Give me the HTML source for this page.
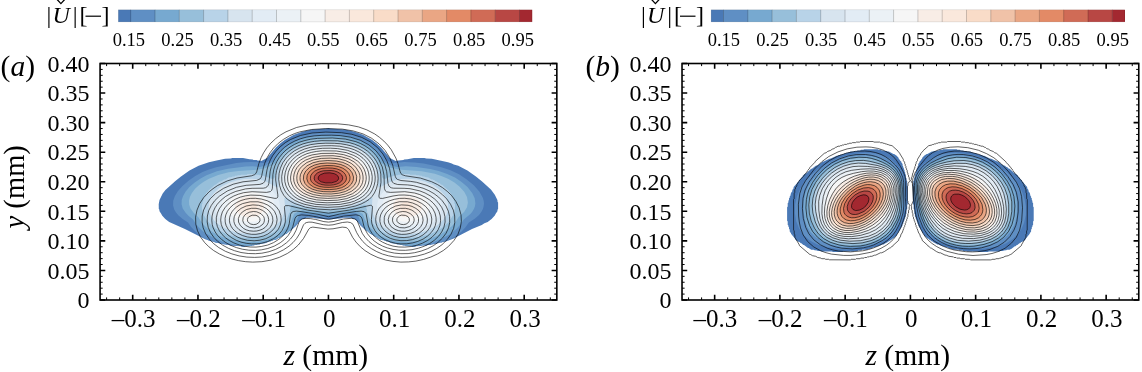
<!DOCTYPE html><html><head><meta charset="utf-8"><style>html,body{margin:0;padding:0;background:#fff;width:1142px;height:372px;overflow:hidden}svg{display:block;filter:blur(0.3px)}text{font-family:"Liberation Serif",serif;fill:#000}</style></head><body>
<svg width="1142" height="372" viewBox="0 0 1142 372">
<clipPath id="clipa"><rect x="100.08" y="63.50" width="456.75" height="236.50"/></clipPath>
<g clip-path="url(#clipa)">
<path d="M328.5 127.9 326.5 128.4 312.1 129.6 306.3 130.7 301.7 131.9 293.9 134.7 284.7 140.0 280.2 143.6 275.9 147.5 267.1 157.9 261.2 161.1 260.6 160.7 257.3 160.5 256.7 160.1 253.4 159.9 252.8 159.5 249.5 159.3 243.0 158.0 232.5 158.1 230.6 158.5 225.1 158.7 216.6 160.5 208.9 162.2 198.6 165.8 189.5 170.5 181.0 176.4 175.1 181.2 165.4 190.0 162.7 193.6 159.5 200.0 158.7 204.2 158.8 208.9 159.3 209.5 159.5 211.3 161.2 213.7 162.1 215.5 165.3 219.0 169.2 222.0 184.9 229.1 205.8 239.5 207.1 239.7 209.0 240.7 214.3 242.0 214.9 242.5 219.5 243.2 220.1 243.7 222.1 243.8 222.7 244.3 229.3 245.0 229.9 245.5 241.0 246.2 241.7 246.7 244.9 246.7 245.6 246.2 251.5 246.1 252.1 245.6 254.1 245.5 254.7 245.0 256.7 245.0 257.3 244.4 259.9 244.4 260.6 243.8 265.2 243.2 269.1 241.5 270.4 241.4 271.0 240.9 272.3 240.8 273.0 240.3 276.2 239.6 278.9 237.9 279.5 237.9 280.8 236.7 282.8 236.1 286.0 233.8 286.7 233.7 290.0 230.8 290.6 230.8 296.4 225.5 296.5 224.9 298.3 223.1 298.4 222.5 301.7 219.5 302.4 219.0 303.7 218.9 306.3 217.8 314.1 217.8 314.7 218.2 328.5 219.4 342.2 218.2 342.8 217.8 350.6 217.8 353.2 218.9 354.6 219.0 358.5 222.5 358.6 223.1 360.4 224.9 360.5 225.5 366.3 230.8 366.9 230.8 370.2 233.7 372.8 234.9 374.1 236.1 376.1 236.7 379.3 239.0 380.6 239.6 382.0 239.7 382.6 240.2 383.9 240.3 384.6 240.8 385.9 240.9 386.5 241.4 387.8 241.5 391.7 243.2 396.3 243.8 397.0 244.4 399.6 244.4 400.2 245.0 402.2 245.0 402.8 245.5 404.8 245.6 405.4 246.1 411.3 246.2 412.0 246.7 415.2 246.7 415.9 246.2 421.1 246.1 421.8 245.6 427.0 245.5 427.6 245.0 430.9 244.9 431.5 244.4 434.2 244.3 434.8 243.8 436.8 243.7 437.4 243.2 439.4 243.1 440.0 242.6 442.0 242.5 442.6 242.0 445.9 241.4 453.7 238.4 472.0 229.1 481.8 224.9 484.4 223.3 487.7 222.0 491.6 219.0 494.8 215.5 495.7 213.7 497.4 211.3 497.6 209.5 498.1 209.0 498.1 202.4 497.6 201.9 497.4 200.0 494.8 194.7 490.9 189.4 481.8 181.2 475.9 176.4 467.4 170.5 458.3 165.8 453.7 164.4 451.8 163.4 448.0 162.2 431.8 158.7 426.3 158.5 424.4 158.1 413.9 158.0 407.4 159.3 404.1 159.5 403.5 159.9 396.3 160.7 395.7 161.1 389.8 157.9 381.0 147.5 376.7 143.6 372.2 140.0 363.0 134.8 355.2 131.9 350.6 130.7 344.8 129.6 330.4 128.4 328.5 127.9Z" fill="#4a79b6" fill-rule="evenodd"/>
<path d="M341.5 132.7 331.1 132.1 319.3 132.4 310.2 133.3 301.7 135.1 291.9 138.8 283.4 144.1 279.5 147.4 276.2 151.0 273.5 154.6 269.8 160.5 265.2 163.0 263.9 163.3 257.3 162.3 250.8 162.0 243.6 162.3 236.4 163.1 216.2 167.2 209.0 169.4 202.5 172.0 195.3 175.9 188.8 180.4 182.5 185.9 177.8 191.2 174.9 195.9 173.2 200.7 173.1 205.4 174.2 209.5 176.0 212.5 178.5 215.5 182.7 219.0 188.0 222.5 190.9 226.7 194.7 230.8 198.8 234.4 203.2 237.5 205.9 239.1 207.1 239.2 209.0 240.3 210.3 240.4 211.0 240.9 214.3 241.6 214.9 242.2 219.5 242.9 220.1 243.4 222.1 243.5 222.7 244.0 225.4 244.1 226.0 244.6 229.3 244.7 229.9 245.2 235.1 245.3 235.8 245.8 241.0 245.9 241.7 246.4 244.9 246.4 245.6 245.9 251.5 245.9 252.1 245.3 256.7 244.7 257.3 244.2 259.9 244.1 260.6 243.6 265.2 243.0 269.1 241.2 270.4 241.2 271.0 240.6 272.3 240.6 273.0 240.0 276.2 239.4 278.9 237.7 279.5 237.6 280.8 236.5 282.8 235.8 286.0 233.5 286.7 233.5 290.0 230.5 290.6 230.5 296.1 225.5 296.1 224.9 298.0 223.1 298.0 222.5 302.4 218.5 303.2 218.4 304.3 216.9 306.3 216.4 318.0 217.5 327.8 217.7 338.9 217.4 350.0 216.4 351.9 216.6 353.0 217.2 353.7 218.4 354.6 218.5 358.9 222.5 358.9 223.1 360.8 224.9 360.8 225.5 366.3 230.5 366.9 230.5 370.2 233.5 372.8 234.7 374.1 235.8 376.1 236.5 379.3 238.8 380.6 239.4 382.0 239.4 382.6 240.0 383.9 240.0 384.6 240.6 385.9 240.6 386.5 241.2 387.8 241.2 391.7 243.0 396.3 243.6 397.0 244.1 399.6 244.2 400.2 244.7 404.8 245.3 405.4 245.9 411.3 245.9 412.0 246.4 415.2 246.4 415.9 245.9 421.1 245.8 421.8 245.3 427.0 245.2 427.6 244.7 430.9 244.6 431.5 244.1 434.2 244.0 434.8 243.5 436.8 243.4 437.4 242.9 442.0 242.2 442.6 241.6 445.9 240.9 446.6 240.4 447.9 240.3 449.8 239.2 451.0 239.1 456.5 235.6 461.6 231.4 465.5 227.3 468.9 222.5 475.0 218.4 479.0 214.9 481.3 211.9 482.9 208.9 483.6 206.6 484.0 203.6 483.7 200.7 482.8 197.7 479.5 191.8 473.8 185.3 466.8 179.4 459.0 174.3 450.5 170.3 441.3 167.3 423.7 163.6 414.6 162.4 404.1 162.0 393.0 163.3 391.7 163.0 386.5 160.0 382.9 154.0 379.1 149.2 374.1 144.7 368.9 141.0 363.0 138.0 356.5 135.5 349.3 133.8 341.5 132.7Z" fill="#5f8fc4" fill-rule="evenodd"/>
<path d="M340.2 135.6 329.8 135.2 318.7 135.5 310.2 136.4 302.4 138.2 293.9 141.4 286.0 146.2 282.4 149.2 279.0 152.8 273.0 161.6 265.8 165.4 259.9 166.9 252.8 166.3 245.6 166.4 228.0 168.8 216.9 171.3 206.5 175.2 200.6 178.4 194.7 182.4 189.4 187.1 185.5 191.8 183.1 195.9 181.7 200.1 181.6 204.2 182.7 208.4 185.8 213.1 188.7 216.0 193.1 219.6 195.7 223.7 198.7 227.3 203.2 231.4 207.7 234.6 214.9 238.6 222.7 241.7 231.2 244.0 240.4 245.5 244.9 245.9 245.6 245.6 251.5 245.6 252.1 245.1 256.7 244.5 257.3 243.9 259.9 243.9 260.6 243.4 265.2 242.7 265.8 242.2 267.1 242.2 269.1 241.0 270.4 241.0 271.0 240.4 272.3 240.4 273.0 239.8 274.3 239.8 274.9 239.2 276.2 239.2 276.9 238.6 277.6 238.6 280.8 236.2 282.8 235.6 286.0 233.2 286.7 233.2 290.4 230.2 293.3 226.7 295.6 223.1 299.4 214.3 301.0 213.1 302.4 212.9 315.4 214.6 327.8 215.1 339.5 214.8 353.2 213.0 355.9 213.1 357.5 214.3 360.4 221.4 363.6 226.7 366.5 230.2 370.2 233.2 370.9 233.2 374.1 235.6 376.1 236.2 377.4 237.4 378.0 237.4 380.6 239.2 383.9 239.8 384.6 240.4 385.9 240.4 386.5 241.0 387.8 241.0 389.8 242.2 391.1 242.2 391.7 242.7 396.3 243.4 397.0 243.9 399.6 243.9 400.2 244.5 404.8 245.1 405.4 245.6 411.3 245.6 412.0 245.9 423.7 244.4 433.5 241.9 442.0 238.6 449.8 234.2 456.3 229.1 460.7 224.3 463.8 219.6 470.1 214.3 472.1 211.9 473.9 208.9 474.9 206.6 475.4 203.6 474.7 198.3 472.2 193.0 467.5 187.1 461.6 181.9 455.0 177.6 447.2 173.9 438.7 171.0 430.2 169.0 416.5 166.9 406.1 166.2 397.0 166.9 390.4 165.2 386.5 163.2 383.3 161.1 380.1 155.7 376.2 151.0 371.5 146.8 366.3 143.2 360.4 140.3 354.6 138.2 347.4 136.6 340.2 135.6Z" fill="#77a9d0" fill-rule="evenodd"/>
<path d="M332.4 138.0 321.3 138.1 312.1 139.0 303.7 140.8 296.5 143.5 290.3 146.9 284.7 151.2 280.2 156.3 275.9 162.8 270.9 165.8 265.8 167.9 257.3 169.8 238.4 171.0 228.6 172.3 218.2 175.0 209.0 178.7 203.7 181.8 198.9 185.3 195.1 188.8 191.9 193.0 189.9 197.1 189.0 200.7 189.2 204.8 190.5 208.4 193.8 213.1 198.4 217.2 200.9 221.4 203.8 224.9 207.5 228.5 211.7 231.5 218.2 235.2 225.4 238.1 233.2 240.2 241.7 241.6 251.5 242.1 259.3 241.5 267.1 239.7 274.9 236.5 281.9 232.0 287.4 226.7 291.4 220.8 294.2 213.7 298.4 211.5 303.0 210.2 313.4 212.0 325.8 212.7 341.5 212.2 353.9 210.1 356.5 210.8 362.7 213.7 364.6 219.0 367.3 223.7 370.9 228.2 375.4 232.3 380.0 235.4 385.2 238.0 390.4 239.9 396.3 241.3 406.1 242.1 418.5 241.2 429.6 238.7 439.4 234.9 446.3 230.8 452.0 226.1 455.6 222.0 458.5 217.2 464.1 211.9 467.0 207.2 467.9 202.4 467.0 197.1 464.2 191.8 459.4 186.5 454.4 182.6 448.5 179.1 442.0 176.2 434.8 173.8 421.8 171.3 398.3 169.6 389.8 167.5 385.2 165.4 380.6 162.6 377.1 156.9 373.1 152.2 368.2 148.0 362.4 144.5 356.5 141.9 349.3 139.9 341.5 138.6 332.4 138.0Z" fill="#97bfda" fill-rule="evenodd"/>
<path d="M337.6 140.9 323.9 140.7 312.1 141.7 302.4 144.1 293.9 148.0 290.0 150.6 286.7 153.4 281.2 159.9 277.6 165.8 277.6 167.0 276.9 167.6 276.9 169.3 276.2 169.9 276.2 171.7 275.6 172.3 275.6 174.7 274.9 175.2 274.9 177.0 273.6 178.8 271.0 178.8 270.4 178.2 269.7 178.2 269.1 177.6 267.8 177.6 265.8 176.4 264.5 176.4 263.9 175.8 262.5 175.8 261.9 175.2 259.3 175.2 258.6 174.7 254.7 174.7 254.1 174.1 247.5 174.1 246.9 174.7 241.0 174.7 240.4 175.2 237.8 175.2 237.1 175.8 235.1 175.8 234.5 176.4 232.5 176.4 231.9 177.0 228.6 177.6 225.4 179.4 224.1 179.4 221.4 181.2 219.5 181.8 215.6 184.7 214.9 184.7 208.4 190.6 208.4 191.2 206.4 193.0 205.1 195.9 204.5 196.5 204.5 197.1 203.8 197.7 203.8 198.9 203.2 199.5 203.2 200.7 202.5 201.3 202.5 203.6 201.9 204.2 201.9 209.5 202.5 210.1 202.5 212.5 203.2 213.1 203.2 214.3 206.9 220.2 210.5 224.3 215.7 228.5 222.1 232.1 229.3 234.9 237.1 236.9 245.6 238.0 254.1 238.1 261.2 237.1 268.4 234.9 274.3 232.0 279.9 227.9 283.9 223.7 286.9 219.0 289.3 212.7 290.0 212.5 290.0 208.9 290.6 208.4 290.6 206.0 291.9 204.8 295.2 205.4 295.8 206.0 297.1 206.0 297.8 206.6 301.0 207.2 301.7 207.8 303.0 207.6 310.8 209.3 318.7 210.2 328.5 210.4 338.2 210.1 346.1 209.3 353.9 207.6 355.2 207.8 355.9 207.2 359.1 206.6 361.1 205.4 363.0 205.4 363.7 204.8 365.0 204.8 366.3 206.0 366.3 208.4 366.9 208.9 366.9 212.5 367.6 212.7 369.7 218.4 373.0 223.7 376.3 227.3 380.6 230.7 385.2 233.4 389.8 235.4 395.0 236.9 400.9 237.9 406.8 238.2 413.3 237.8 419.8 236.9 426.3 235.3 432.2 233.2 437.4 230.8 443.9 226.4 449.1 221.4 453.7 214.3 453.7 213.1 454.4 212.5 454.4 210.1 455.0 209.5 455.0 204.2 454.4 203.6 454.4 201.3 453.7 200.7 453.7 199.5 453.1 198.9 453.1 197.7 452.4 197.1 452.4 196.5 451.8 195.9 450.5 193.0 448.5 191.2 448.5 190.6 442.0 184.7 441.3 184.7 439.4 182.9 438.7 182.9 436.1 181.2 435.5 181.2 434.2 180.0 433.5 180.0 432.9 179.4 431.5 179.4 428.3 177.6 425.0 177.0 424.4 176.4 422.4 176.4 421.8 175.8 419.8 175.8 419.1 175.2 416.5 175.2 415.9 174.7 410.0 174.7 409.4 174.1 402.8 174.1 402.2 174.7 398.3 174.7 397.6 175.2 395.0 175.2 394.4 175.8 393.0 175.8 392.4 176.4 391.1 176.4 389.1 177.6 387.8 177.6 385.9 178.8 383.3 178.8 382.0 177.0 382.0 175.8 381.3 175.2 381.3 172.9 380.6 172.3 380.6 169.9 380.0 169.3 380.0 168.2 379.3 167.6 379.3 166.4 378.7 165.8 378.7 164.6 373.4 156.9 368.3 151.7 361.7 147.3 354.6 144.2 346.7 142.1 337.6 140.9Z" fill="#b8d3e8" fill-rule="evenodd"/>
<path d="M334.3 143.3 320.6 143.4 309.5 144.9 304.3 146.3 299.7 148.1 295.8 150.1 291.7 152.8 288.3 155.7 285.4 159.0 282.8 162.8 281.1 166.4 279.0 173.5 278.5 178.8 278.5 185.9 278.2 187.1 277.6 187.4 275.6 186.7 268.4 182.7 263.9 180.8 258.0 179.3 252.1 178.7 244.3 179.1 236.4 180.4 229.3 182.7 222.7 185.9 218.4 188.8 214.6 192.4 211.9 195.9 209.8 200.1 208.8 204.2 208.6 208.4 209.4 212.5 211.3 216.6 214.4 220.8 218.3 224.3 223.4 227.6 229.3 230.3 235.8 232.4 242.3 233.6 249.5 234.2 256.0 233.9 263.2 232.4 269.7 229.7 275.2 226.1 279.5 221.8 282.5 217.2 284.4 211.9 285.0 206.6 284.4 198.9 284.6 197.7 285.4 197.4 297.8 203.3 305.6 205.9 316.1 207.7 328.5 208.2 340.8 207.7 351.3 205.9 359.6 203.0 371.5 197.2 372.2 197.4 372.5 198.3 371.9 206.0 372.2 210.1 373.0 213.7 374.4 217.2 376.7 220.9 380.0 224.6 383.9 227.7 388.5 230.3 393.7 232.4 398.9 233.6 404.1 234.1 410.7 234.0 417.2 233.2 423.7 231.7 429.6 229.5 434.8 226.9 440.1 223.1 444.0 219.0 446.8 214.3 448.2 208.9 448.0 203.6 446.6 198.9 443.7 194.2 439.2 189.4 432.9 185.1 425.1 181.8 416.5 179.6 408.1 178.7 400.9 179.0 394.4 180.4 388.5 182.7 380.6 187.1 378.7 187.4 378.2 185.9 378.1 175.8 376.6 168.7 373.2 161.6 368.5 155.7 361.7 150.5 353.9 146.8 344.8 144.4 334.3 143.3Z" fill="#d7e4ef" fill-rule="evenodd"/>
<path d="M252.1 182.9 246.9 183.1 241.7 183.7 236.4 184.9 232.0 186.5 228.0 188.4 224.1 190.9 221.0 193.6 218.4 196.5 216.6 199.5 215.3 203.0 214.9 206.6 215.2 210.1 216.4 213.7 218.1 216.6 220.8 219.7 224.2 222.5 230.6 226.1 237.8 228.5 246.2 229.9 254.1 230.0 260.6 228.8 267.1 226.2 272.3 222.6 276.2 218.4 278.9 213.1 279.9 207.2 279.6 203.6 278.9 200.7 276.2 195.2 271.7 190.1 266.2 186.5 259.3 183.9 252.1 182.9ZM407.4 182.9 402.2 183.1 396.8 184.1 391.7 186.0 387.2 188.6 383.4 191.8 380.5 195.3 378.4 199.5 377.2 204.2 377.1 208.9 378.0 213.1 380.0 217.2 382.7 220.8 386.5 224.2 390.7 226.7 395.7 228.6 400.9 229.8 407.4 230.1 415.2 229.4 421.8 227.8 428.3 225.2 433.5 221.9 437.9 217.8 440.5 213.7 441.9 208.9 441.8 204.2 440.3 199.5 437.0 194.8 432.9 190.9 427.5 187.7 421.1 185.1 414.6 183.6 407.4 182.9ZM339.5 146.2 332.4 145.8 323.9 145.8 316.7 146.3 310.8 147.3 305.6 148.7 300.4 150.7 295.8 153.3 291.8 156.3 288.0 160.3 285.2 164.6 283.1 169.3 281.8 174.7 281.7 180.0 282.5 184.7 284.3 188.8 287.2 193.0 290.3 195.9 293.9 198.5 297.9 200.7 302.4 202.5 312.1 205.0 324.5 206.0 338.9 205.7 350.0 203.9 355.2 202.2 359.8 200.3 364.1 197.7 367.6 194.9 370.6 191.8 372.5 188.8 374.1 185.3 375.0 181.2 375.2 177.0 374.5 172.3 373.3 168.2 371.3 164.0 368.9 160.5 365.6 156.9 362.4 154.2 358.5 151.8 350.0 148.3 339.5 146.2Z" fill="#e2ecf5" fill-rule="evenodd"/>
<path d="M256.0 187.6 248.2 187.2 239.7 188.6 235.6 190.0 231.9 191.8 226.3 195.9 224.3 198.3 222.5 201.3 221.7 203.6 221.2 206.6 221.5 209.5 222.2 211.9 223.9 214.9 225.9 217.2 230.4 220.8 235.8 223.4 242.3 225.2 248.8 226.0 254.7 225.8 260.6 224.4 265.7 222.0 269.5 219.0 272.7 214.9 274.5 210.1 274.7 204.8 273.3 200.1 270.4 195.5 266.5 191.9 261.9 189.4 256.0 187.6ZM412.0 187.6 403.5 187.3 399.6 187.9 395.7 189.1 392.4 190.7 389.1 192.9 386.6 195.3 384.5 198.3 383.1 201.3 382.2 204.8 382.2 208.4 382.9 211.9 384.2 214.9 386.3 217.8 389.1 220.5 392.1 222.5 397.0 224.7 402.8 225.9 408.7 226.0 415.2 225.1 421.1 223.4 426.5 220.8 430.9 217.3 433.8 213.7 435.4 209.5 435.6 205.4 434.4 201.3 431.7 197.1 427.8 193.6 423.1 190.8 417.8 188.8 412.0 187.6ZM337.6 148.6 323.2 148.3 317.4 148.8 311.5 149.8 306.3 151.2 301.7 153.1 297.8 155.3 293.9 158.2 290.6 161.6 287.8 165.8 285.8 170.5 284.8 175.2 284.7 180.0 285.5 184.1 287.4 188.3 290.0 191.8 293.1 194.8 296.5 197.1 304.3 200.7 314.1 203.0 325.2 203.9 338.2 203.5 348.7 201.9 353.2 200.5 357.8 198.5 361.7 196.2 365.0 193.6 367.8 190.6 369.7 187.7 371.3 184.1 372.1 180.6 372.2 176.4 371.5 172.3 370.1 168.2 368.3 164.6 365.7 161.1 363.0 158.3 359.7 155.7 355.9 153.4 347.4 150.3 337.6 148.6Z" fill="#ebf1f6" fill-rule="evenodd"/>
<path d="M254.1 191.8 247.5 191.7 241.0 193.1 235.8 195.3 231.3 198.9 228.6 203.0 227.8 207.2 228.8 211.3 231.9 215.5 235.8 218.2 240.4 220.2 245.6 221.4 250.8 221.8 255.4 221.4 259.3 220.3 262.9 218.4 265.8 215.9 268.2 212.5 269.4 208.9 269.4 204.8 268.2 201.3 265.8 197.7 262.5 194.9 258.6 192.9 254.1 191.8ZM410.0 191.8 402.8 191.8 397.0 193.5 392.3 196.5 390.1 198.9 388.7 201.3 387.8 203.6 387.4 206.6 388.2 211.3 389.3 213.7 391.2 216.0 393.2 217.8 396.1 219.6 400.2 221.1 404.1 221.8 409.4 221.7 414.6 220.8 419.1 219.2 423.1 217.0 426.1 214.3 428.1 211.3 429.0 208.4 428.8 204.8 427.8 201.9 425.6 198.9 422.4 196.2 418.8 194.2 414.6 192.7 410.0 191.8ZM336.3 151.0 323.2 150.8 312.1 152.2 307.6 153.5 303.0 155.4 299.1 157.7 295.8 160.2 292.6 163.8 290.2 167.6 288.5 171.7 287.7 175.8 287.6 180.0 288.4 183.5 290.0 187.1 292.6 190.6 295.2 193.1 298.3 195.3 305.6 198.7 314.7 200.9 325.2 201.8 337.6 201.4 347.4 199.9 355.9 196.8 359.4 194.8 362.4 192.4 365.2 189.4 367.1 186.5 368.4 183.5 369.2 180.0 369.2 176.4 368.6 172.9 367.5 169.3 365.6 165.8 363.5 162.8 360.6 159.9 357.5 157.5 353.9 155.5 346.1 152.6 336.3 151.0Z" fill="#f6f6f6" fill-rule="evenodd"/>
<path d="M254.1 196.5 249.5 196.3 244.9 197.0 241.0 198.5 237.9 200.7 235.6 203.6 234.8 206.6 235.3 209.5 237.3 212.5 239.5 214.3 242.3 215.7 245.6 216.8 249.5 217.3 252.8 217.3 256.0 216.6 258.6 215.4 260.9 213.7 262.8 211.3 263.7 208.9 263.9 206.6 263.3 203.6 262.0 201.3 259.9 199.2 257.3 197.6 254.1 196.5ZM409.4 196.5 404.8 196.2 400.2 197.3 396.6 199.5 394.2 202.4 393.0 206.0 393.3 209.5 395.0 212.6 398.3 215.4 400.9 216.6 404.1 217.3 410.7 216.9 413.9 216.0 417.2 214.4 419.6 212.5 421.0 210.7 421.8 208.9 422.1 206.6 421.5 204.2 420.1 201.9 418.3 200.1 415.5 198.3 409.4 196.5ZM334.3 153.3 322.6 153.3 312.8 154.7 308.2 156.1 304.3 157.8 300.8 159.9 297.8 162.2 295.1 165.2 292.9 168.7 291.4 172.3 290.6 176.4 290.7 180.0 291.5 183.5 293.0 186.5 295.2 189.4 300.4 193.7 307.6 197.0 316.1 198.9 325.8 199.7 337.6 199.3 346.7 197.7 354.5 194.8 360.4 190.6 362.6 188.3 364.5 185.3 365.7 182.3 366.2 179.4 366.1 175.8 365.4 172.3 364.2 169.3 362.4 166.1 357.6 161.1 351.3 157.2 343.5 154.6 334.3 153.3Z" fill="#f8ede6" fill-rule="evenodd"/>
<path d="M251.5 201.8 246.9 202.6 245.1 203.6 244.0 204.8 243.4 206.0 243.3 207.8 245.0 210.1 247.5 211.4 251.5 212.0 254.1 211.3 256.3 209.5 257.2 207.2 256.6 204.8 254.7 202.9 251.5 201.8ZM406.1 201.8 403.0 202.4 400.7 204.2 399.7 206.6 400.2 208.9 402.2 211.0 404.8 211.9 408.1 211.8 411.0 210.7 412.6 209.5 413.4 208.4 413.7 207.2 413.3 205.4 412.4 204.2 410.7 202.9 408.7 202.2 406.1 201.8ZM333.0 155.7 322.6 155.8 313.4 157.2 306.1 159.9 303.0 161.7 300.1 164.0 297.4 167.0 295.6 169.9 294.4 172.9 293.7 176.4 293.7 180.0 294.5 182.9 296.0 185.9 297.8 188.3 303.0 192.4 309.5 195.2 317.4 196.9 326.5 197.6 336.9 197.2 345.4 195.7 352.6 193.0 357.8 189.4 360.0 187.1 361.5 184.7 362.5 182.3 363.1 179.4 363.1 176.4 362.4 172.9 361.2 169.9 359.4 167.0 354.6 162.2 348.7 158.9 341.5 156.8 333.0 155.7Z" fill="#fae8dc" fill-rule="evenodd"/>
<path d="M330.4 158.1 321.3 158.4 313.4 159.9 306.9 162.5 301.8 166.4 299.7 168.9 298.2 171.7 297.2 174.7 296.8 177.6 297.0 180.6 297.8 182.9 299.1 185.3 301.0 187.6 306.1 191.2 312.1 193.6 319.3 195.0 328.5 195.5 337.6 195.0 344.8 193.6 351.3 190.9 355.9 187.5 357.7 185.3 359.0 182.9 360.0 178.2 359.8 175.2 358.9 172.3 355.9 167.3 351.3 163.4 345.4 160.5 338.2 158.7 330.4 158.1Z" fill="#f9dcc8" fill-rule="evenodd"/>
<path d="M336.3 161.0 327.8 160.5 319.3 161.2 312.8 162.8 307.6 165.4 303.2 169.3 300.6 174.1 300.0 177.0 300.0 179.4 300.6 181.8 301.8 184.1 305.0 187.4 309.5 190.2 315.4 192.1 321.9 193.1 331.1 193.3 338.9 192.6 345.4 190.9 350.6 188.3 354.5 184.7 356.5 180.6 356.7 176.4 355.2 171.7 352.0 167.6 348.0 164.7 342.8 162.4 336.3 161.0Z" fill="#f0c2a8" fill-rule="evenodd"/>
<path d="M335.0 163.4 327.8 163.0 320.6 163.5 314.7 164.9 310.2 167.1 306.2 170.5 303.9 174.7 303.3 178.8 303.8 181.2 304.7 182.9 307.4 185.9 311.5 188.4 316.7 190.1 322.6 191.0 330.4 191.2 337.6 190.6 343.5 189.1 348.0 186.9 351.2 184.1 353.2 180.6 353.4 176.4 351.9 172.4 349.3 169.2 345.4 166.4 340.8 164.5 335.0 163.4Z" fill="#eaa684" fill-rule="evenodd"/>
<path d="M333.7 165.7 327.8 165.4 321.9 165.9 316.7 167.1 312.8 168.9 309.5 171.5 307.4 174.7 306.7 178.2 307.7 181.8 310.2 184.5 313.4 186.5 318.0 188.1 323.2 188.9 329.8 189.1 336.3 188.6 341.5 187.3 345.4 185.4 348.3 182.9 349.8 180.0 350.0 177.0 348.8 173.5 346.3 170.5 342.8 168.2 338.9 166.7 333.7 165.7Z" fill="#e38a66" fill-rule="evenodd"/>
<path d="M332.4 168.1 327.1 167.9 321.9 168.4 318.0 169.5 314.7 171.1 312.1 173.4 310.7 175.8 310.4 178.8 311.2 181.2 313.4 183.5 316.1 184.9 319.3 186.1 323.9 186.8 329.1 187.0 334.3 186.7 338.9 185.6 342.4 184.1 345.2 181.8 346.3 179.4 346.2 176.4 345.2 174.1 342.9 171.7 340.2 170.1 336.4 168.7 332.4 168.1Z" fill="#d06b56" fill-rule="evenodd"/>
<path d="M331.1 170.5 323.9 170.7 320.6 171.4 318.0 172.6 316.0 174.1 314.7 175.8 314.1 178.2 314.6 180.0 316.0 181.8 318.0 183.0 321.1 184.1 324.5 184.7 333.0 184.6 336.9 183.8 339.5 182.6 341.4 181.2 342.5 179.4 342.7 177.6 341.8 175.2 340.1 173.5 337.6 172.0 334.3 170.9 331.1 170.5Z" fill="#b84744" fill-rule="evenodd"/>
<path d="M329.8 172.8 324.5 173.1 320.6 174.6 319.1 175.8 318.4 177.0 318.2 178.2 318.5 179.4 319.5 180.6 321.3 181.6 325.8 182.7 331.7 182.6 336.5 181.2 337.9 180.0 338.6 178.8 338.4 177.0 337.7 175.8 336.3 174.7 334.3 173.7 329.8 172.8Z" fill="#a32830" fill-rule="evenodd"/>
<path d="M337.6 123.8 321.3 123.7 308.2 124.8 296.5 127.5 286.0 131.8 280.8 134.8 275.6 138.7 270.7 143.3 266.7 148.0 263.6 152.8 261.2 157.5 258.9 163.4 256.7 171.8 255.8 173.5 254.7 174.6 251.5 175.8 237.1 178.0 227.3 180.9 217.5 185.6 213.0 188.7 209.1 191.8 203.6 197.7 199.7 203.6 197.0 210.1 195.6 217.2 195.8 224.3 197.5 230.8 200.3 236.7 204.7 242.6 208.9 246.8 213.6 250.5 219.5 254.0 225.4 256.7 231.9 259.0 238.4 260.6 245.6 261.7 252.8 262.1 261.9 261.7 271.0 260.1 279.5 257.3 287.3 253.5 293.2 249.6 298.3 245.0 303.5 238.5 308.8 229.1 310.2 227.8 312.8 227.1 327.8 229.1 333.0 228.8 342.2 227.1 346.1 227.5 347.4 228.3 348.6 229.6 352.6 237.3 356.0 242.1 360.4 246.8 365.0 250.6 370.9 254.3 378.0 257.6 385.9 260.1 393.0 261.4 400.9 262.1 408.7 261.9 415.9 261.1 423.7 259.4 430.9 257.0 437.4 254.0 443.3 250.5 448.5 246.4 454.1 240.3 457.9 234.4 460.3 227.9 461.4 221.4 461.0 214.9 459.1 207.8 455.8 201.3 451.4 195.3 447.2 191.3 442.6 187.7 437.4 184.5 431.5 181.7 420.5 178.1 405.4 175.8 402.1 174.7 400.9 173.5 400.2 172.0 397.9 163.4 395.9 158.1 391.3 149.8 387.7 145.1 383.9 141.1 379.3 137.2 374.8 134.0 366.9 129.9 358.5 126.9 348.7 124.9 337.6 123.8ZM342.2 129.1 325.8 128.6 311.5 129.5 299.7 131.9 294.5 133.6 289.3 135.9 283.4 139.4 278.3 143.3 273.6 148.0 270.0 152.8 267.2 157.5 265.1 162.2 263.4 167.6 261.7 175.8 261.0 177.6 259.9 179.0 256.7 180.4 243.0 181.8 233.2 184.2 223.6 188.3 215.6 193.6 210.3 198.7 206.4 204.2 203.6 210.1 202.2 216.0 202.1 222.0 203.2 227.9 205.7 233.8 209.3 239.1 213.6 243.6 218.8 247.6 225.4 251.3 231.9 253.9 239.1 255.9 246.9 257.1 254.7 257.4 261.9 257.0 269.7 255.5 276.9 253.1 283.4 249.9 289.0 246.2 293.0 242.6 296.6 238.5 299.9 233.2 303.5 224.9 305.0 223.3 306.3 222.6 308.9 222.1 312.1 222.2 323.2 224.7 328.5 225.2 333.0 224.8 342.4 222.5 347.4 222.0 350.6 222.6 353.0 224.3 356.7 232.6 359.1 236.7 362.8 241.5 366.9 245.4 371.5 248.7 376.7 251.6 382.6 254.1 388.5 255.8 395.0 257.0 402.2 257.4 410.0 257.1 417.2 256.0 424.4 254.1 430.9 251.6 436.8 248.4 442.0 244.7 447.1 239.7 450.9 234.4 453.6 228.5 454.8 222.5 454.7 216.0 453.3 210.1 450.5 204.2 446.7 198.9 442.6 194.8 438.1 191.2 432.9 188.0 427.0 185.4 416.5 182.3 410.7 181.4 400.9 180.5 397.4 179.4 396.1 178.2 395.3 176.4 392.7 165.2 389.6 157.5 385.1 150.4 379.1 143.9 371.5 138.2 363.0 133.9 353.2 130.9 342.2 129.1ZM341.5 132.7 325.8 132.1 312.1 133.0 300.4 135.5 290.6 139.5 285.3 142.7 280.2 146.8 276.2 151.0 272.7 155.7 270.4 159.9 268.4 164.6 267.0 169.9 265.3 180.0 264.5 181.8 263.2 183.2 259.9 184.4 246.2 185.3 236.4 187.3 227.3 191.0 219.5 196.1 214.7 200.7 211.3 205.4 208.7 210.7 207.4 216.0 207.2 222.0 208.2 227.3 210.5 232.6 213.8 237.3 217.8 241.5 222.7 245.2 228.6 248.4 234.5 250.7 241.0 252.5 248.2 253.5 255.4 253.7 261.9 253.2 269.1 251.7 275.6 249.4 281.5 246.4 286.7 242.6 290.4 239.1 293.6 235.0 296.1 230.2 299.1 221.8 300.2 220.2 301.9 219.0 305.0 218.4 310.2 218.6 315.4 219.4 323.9 221.6 328.5 222.1 333.0 221.6 343.5 219.0 351.3 218.3 355.1 219.0 357.2 220.7 362.2 233.2 365.0 237.3 368.9 241.5 372.8 244.7 377.4 247.5 382.6 250.0 387.8 251.7 394.4 253.1 400.9 253.7 408.1 253.6 414.6 252.7 421.1 251.1 427.6 248.7 433.5 245.6 438.1 242.3 442.6 237.9 446.1 233.2 448.5 227.9 449.7 222.5 449.6 216.6 448.4 211.3 446.0 206.0 442.2 200.7 438.6 197.1 434.0 193.6 428.9 190.7 423.1 188.2 413.3 185.6 407.4 184.9 397.6 184.5 393.7 183.3 392.4 182.0 391.5 180.0 389.6 168.7 387.0 161.1 382.9 154.0 377.4 147.5 370.2 141.8 361.7 137.4 351.9 134.3 341.5 132.7ZM340.2 135.6 331.7 135.2 321.9 135.3 314.1 135.9 306.9 137.0 300.4 138.8 294.9 141.0 289.4 143.9 284.7 147.2 281.2 150.4 278.1 154.0 275.2 158.1 273.0 162.2 271.4 166.4 270.2 171.1 268.8 183.5 268.2 185.3 267.1 186.7 265.6 187.7 263.2 188.2 252.1 188.3 245.6 188.9 235.8 191.4 230.6 193.6 225.4 196.6 221.1 200.1 217.3 204.2 215.0 207.8 213.1 211.9 212.1 216.0 211.8 220.2 212.2 224.3 213.2 227.9 215.2 232.0 217.7 235.6 221.4 239.3 225.8 242.6 230.6 245.3 236.4 247.6 242.3 249.2 248.8 250.2 255.4 250.4 261.2 249.9 267.8 248.5 274.3 246.1 280.2 242.8 284.9 239.1 288.1 235.6 290.8 231.4 292.8 226.7 295.0 218.4 296.1 216.6 297.8 215.5 301.7 214.9 308.2 215.4 316.7 216.8 325.2 218.9 328.5 219.3 331.7 218.9 343.5 216.1 355.9 214.8 359.2 215.5 361.3 217.2 362.2 219.0 363.9 226.1 365.2 229.6 367.5 233.8 370.8 237.9 374.1 240.9 378.0 243.7 382.6 246.1 387.2 247.9 393.0 249.4 398.9 250.2 405.4 250.3 412.0 249.7 418.5 248.2 424.3 246.2 429.6 243.6 434.3 240.3 438.7 236.1 441.7 232.0 443.9 227.3 445.1 222.0 444.9 216.6 443.8 211.9 441.6 207.2 438.1 202.4 434.5 198.9 430.2 195.8 425.1 193.0 419.8 190.9 410.0 188.7 404.1 188.3 393.7 188.2 391.7 187.9 390.0 187.1 388.9 185.9 388.0 183.5 386.7 171.7 384.8 164.6 381.2 157.5 376.1 150.9 368.9 144.9 360.4 140.3 350.6 137.2 340.2 135.6ZM332.4 138.0 317.4 138.4 310.8 139.2 305.0 140.5 299.7 142.1 294.5 144.4 290.0 147.1 286.0 150.1 282.6 153.4 279.3 157.5 276.8 161.6 274.9 165.8 273.7 169.9 272.9 174.7 272.4 188.3 271.7 190.3 270.4 191.6 266.5 192.4 252.1 191.7 243.6 192.7 238.4 194.2 233.8 196.0 229.3 198.5 225.4 201.5 222.1 204.8 219.2 208.9 217.4 213.1 216.3 217.8 216.4 222.5 217.4 226.7 219.4 230.8 222.0 234.4 225.4 237.7 229.3 240.5 233.8 242.9 239.1 244.9 244.3 246.2 250.2 247.0 256.0 247.1 261.2 246.5 267.8 245.0 273.6 242.6 278.9 239.3 283.1 235.6 285.8 232.0 287.7 228.5 289.2 223.7 290.6 214.3 291.6 212.5 293.2 211.5 296.5 211.1 301.0 211.6 318.0 214.3 328.5 216.7 339.5 214.1 356.5 211.4 361.1 211.1 364.3 211.7 366.1 213.7 368.3 226.1 370.0 230.2 372.3 233.8 375.4 237.2 378.7 239.8 382.6 242.2 387.5 244.4 393.0 246.1 398.9 247.0 404.8 247.1 411.3 246.5 417.2 245.1 422.4 243.2 427.6 240.5 431.9 237.3 435.4 233.8 438.2 229.6 439.9 225.5 440.6 220.8 440.3 216.0 438.9 211.3 436.6 207.2 433.2 203.0 429.6 199.9 425.0 197.0 419.8 194.6 414.6 193.0 404.8 191.7 390.4 192.4 386.5 191.8 385.2 190.6 384.4 188.3 384.0 175.2 382.3 167.0 378.7 159.3 376.2 155.7 373.1 152.2 369.0 148.6 365.0 145.9 360.4 143.5 355.9 141.7 345.4 139.1 332.4 138.0ZM337.6 140.9 321.9 140.7 314.7 141.3 308.9 142.3 303.0 143.9 297.8 146.0 293.2 148.4 288.7 151.6 284.4 155.7 280.9 160.5 278.4 165.2 276.6 170.5 275.8 175.2 275.7 180.0 277.8 194.8 277.8 196.5 277.4 197.7 276.4 198.3 274.9 198.4 259.9 195.4 250.8 195.1 245.6 195.8 240.4 197.1 235.8 199.0 231.9 201.2 228.1 204.2 224.9 207.8 222.4 211.9 221.1 216.0 220.7 220.2 221.2 224.3 222.8 228.5 225.2 232.0 228.0 235.0 231.9 237.9 236.3 240.3 241.0 242.1 246.2 243.3 251.5 243.9 256.7 243.8 261.2 243.3 267.8 241.5 273.6 238.6 278.4 235.0 282.1 230.5 284.3 226.1 285.3 222.0 285.4 217.2 284.4 207.8 284.7 206.3 285.4 205.7 288.6 205.6 307.6 210.1 328.5 213.2 349.3 210.1 370.2 205.3 371.5 205.4 372.2 206.0 372.5 207.2 371.4 219.6 371.9 223.7 373.1 227.3 375.0 230.8 377.9 234.4 381.3 237.3 385.1 239.7 390.4 241.9 395.7 243.3 400.9 243.9 406.8 243.8 412.6 242.9 417.8 241.4 423.1 239.1 427.6 236.0 431.2 232.6 433.7 229.1 435.3 225.5 436.2 221.4 436.0 217.2 435.0 213.1 432.9 208.9 430.0 205.4 425.9 201.9 421.1 199.0 415.2 196.7 409.4 195.4 404.1 195.0 398.9 195.1 393.0 196.0 382.6 198.4 379.9 198.3 379.2 197.7 378.9 195.9 381.0 182.3 380.8 174.1 380.0 169.9 378.7 165.8 376.6 161.6 374.3 158.1 371.3 154.6 367.6 151.2 363.7 148.5 359.1 146.0 354.6 144.2 349.3 142.6 337.6 140.9ZM255.4 198.3 250.2 198.4 245.6 199.2 241.0 200.5 236.4 202.7 233.2 204.8 229.9 207.9 227.4 211.3 225.8 214.9 225.1 218.4 225.2 222.0 226.1 225.5 228.0 229.1 230.6 232.2 233.8 234.9 237.8 237.2 241.7 238.8 247.5 240.3 254.1 240.8 259.9 240.2 265.8 238.7 271.0 236.1 274.9 233.2 278.4 229.1 280.4 224.9 281.2 220.2 280.8 215.5 279.1 210.7 276.2 206.6 272.3 203.3 267.1 200.7 261.2 199.0 255.4 198.3ZM404.8 198.3 399.6 198.4 394.4 199.3 389.8 200.7 385.2 202.9 381.9 205.4 379.3 208.2 377.4 211.6 376.1 215.5 375.7 219.6 376.0 223.1 377.2 226.7 379.3 230.3 382.0 233.2 385.9 236.1 390.4 238.4 395.0 239.8 400.9 240.7 406.8 240.6 412.6 239.6 418.5 237.5 423.1 234.9 427.1 231.4 430.0 227.3 431.5 223.1 431.8 219.0 430.9 214.3 428.7 210.1 425.7 206.5 421.8 203.5 416.5 200.8 410.7 199.0 404.8 198.3ZM334.3 143.3 325.8 143.2 318.0 143.6 310.8 144.6 305.0 146.1 299.7 148.1 294.5 150.8 290.0 154.2 286.2 158.1 282.8 162.8 280.4 168.2 279.1 173.5 278.7 179.4 279.5 185.3 281.2 190.6 283.8 195.3 287.3 199.2 290.6 201.4 294.9 203.6 305.6 207.2 317.4 209.1 330.4 209.8 344.8 208.4 355.9 205.9 361.1 204.0 365.6 201.7 369.0 199.5 372.0 196.5 374.4 193.0 376.5 188.3 377.7 183.5 378.1 178.8 377.8 174.1 376.8 169.3 374.9 164.6 372.5 160.5 369.6 156.9 365.8 153.4 361.7 150.5 357.2 148.1 351.9 146.1 346.7 144.8 340.8 143.8 334.3 143.3ZM258.0 201.8 250.2 201.8 242.6 203.6 239.1 205.3 236.3 207.2 233.7 209.5 231.9 211.9 230.6 214.3 229.7 217.2 229.4 220.2 229.8 223.1 231.0 226.1 232.5 228.5 234.7 230.8 237.7 233.2 242.3 235.5 247.5 237.0 252.8 237.6 258.0 237.3 263.2 236.1 267.8 234.1 271.7 231.2 274.6 227.9 276.5 223.7 277.1 219.6 276.4 215.5 274.5 211.3 271.5 207.8 267.8 205.1 263.2 203.1 258.0 201.8ZM407.4 201.8 399.6 201.7 392.4 203.5 389.1 205.1 386.1 207.2 383.7 209.5 382.0 212.1 380.6 214.9 379.9 218.4 379.9 221.4 380.6 224.3 382.0 227.3 383.7 229.6 386.1 232.0 389.1 234.1 393.7 236.1 398.9 237.3 404.1 237.6 409.4 237.0 414.6 235.5 419.1 233.2 422.9 230.2 425.6 226.7 427.1 223.1 427.4 219.0 426.5 214.9 424.4 211.0 421.4 207.8 417.2 205.0 412.6 203.0 407.4 201.8ZM339.5 146.2 331.7 145.7 323.2 145.8 316.1 146.4 310.2 147.4 304.3 149.1 299.1 151.4 294.5 154.2 290.6 157.5 287.0 161.6 284.3 166.4 282.6 171.1 281.7 176.4 281.9 181.8 283.0 186.5 285.2 191.2 288.4 195.3 291.3 197.9 295.2 200.5 299.2 202.4 304.1 204.2 314.7 206.5 327.1 207.4 340.2 206.7 351.3 204.6 360.4 201.1 364.3 198.8 367.6 196.1 370.4 193.0 372.5 189.4 374.1 185.3 375.0 181.2 375.2 177.0 374.5 172.3 373.3 168.2 371.5 164.4 369.4 161.1 366.3 157.5 363.0 154.7 359.1 152.1 354.6 149.9 350.0 148.3 339.5 146.2ZM258.6 205.3 252.8 204.9 246.2 206.0 241.0 208.4 236.9 211.9 235.3 214.3 234.3 216.6 233.9 219.0 233.9 221.4 234.5 223.7 235.7 226.1 239.0 229.6 242.8 232.0 246.9 233.5 251.5 234.3 256.0 234.3 260.6 233.5 264.4 232.0 267.8 229.8 270.3 227.3 272.0 224.3 272.9 220.8 272.6 217.2 271.5 214.3 269.5 211.3 266.5 208.6 262.8 206.6 258.6 205.3ZM408.1 205.3 401.5 204.9 395.7 206.0 390.4 208.6 386.5 212.4 385.1 214.9 384.3 217.2 384.2 222.0 384.9 224.3 386.2 226.7 389.8 230.3 393.0 232.3 397.4 233.8 401.5 234.4 406.1 234.2 410.7 233.3 414.6 231.8 417.9 229.6 420.7 226.7 422.4 223.7 423.1 220.2 422.6 216.6 421.3 213.7 418.9 210.7 415.9 208.4 412.0 206.4 408.1 205.3ZM337.6 148.6 330.4 148.2 322.6 148.3 316.7 148.9 310.8 149.9 305.6 151.4 301.0 153.4 296.5 156.2 292.8 159.3 289.3 163.4 286.9 167.6 285.3 172.3 284.6 177.0 284.9 181.8 286.0 185.9 288.1 190.0 291.3 194.0 294.2 196.5 297.8 198.9 306.3 202.4 316.1 204.4 327.8 205.0 340.2 204.4 350.0 202.5 354.6 201.0 358.9 198.9 362.4 196.7 365.4 194.2 367.9 191.2 370.0 187.7 371.4 184.1 372.1 180.6 372.2 176.4 371.5 172.3 370.1 168.2 368.3 164.6 365.7 161.1 363.0 158.3 359.7 155.7 355.9 153.4 347.4 150.3 337.6 148.6ZM256.0 208.3 251.5 208.3 246.5 209.5 242.4 211.9 239.8 214.9 238.4 218.4 238.5 222.0 240.3 225.5 243.6 228.5 246.2 229.8 249.5 230.8 253.4 231.2 256.7 231.0 259.9 230.2 262.6 229.1 265.2 227.3 267.2 224.9 268.3 222.5 268.7 219.6 268.1 216.6 266.9 214.3 265.2 212.3 262.5 210.4 259.3 209.0 256.0 208.3ZM405.4 208.3 400.2 208.4 395.7 209.7 391.7 212.3 389.3 215.5 388.2 219.6 388.8 223.1 391.1 226.7 395.0 229.4 398.3 230.6 401.5 231.2 404.8 231.2 408.1 230.6 411.3 229.5 413.9 228.0 416.1 226.1 417.7 223.7 418.5 221.4 418.5 218.4 417.8 216.0 416.3 213.7 414.5 211.9 411.7 210.1 408.7 209.0 405.4 208.3ZM336.3 151.0 322.6 150.8 316.7 151.4 311.5 152.4 306.9 153.7 302.4 155.7 298.5 158.1 295.2 160.9 292.0 164.6 289.9 168.2 288.3 172.3 287.6 177.0 287.8 181.2 288.9 185.3 290.8 188.8 293.7 192.4 296.5 194.9 299.7 197.0 306.9 200.1 316.1 202.1 327.1 202.8 338.9 202.3 348.0 200.6 355.9 197.6 359.6 195.3 362.5 193.0 365.2 190.0 367.0 187.1 368.3 184.1 369.1 180.6 369.2 177.0 368.6 172.9 367.5 169.3 365.6 165.8 363.5 162.8 360.6 159.9 357.5 157.5 353.9 155.5 346.1 152.6 336.3 151.0ZM256.7 211.8 253.4 211.5 249.5 212.2 246.4 213.7 244.4 215.5 243.1 217.8 242.8 220.8 243.6 223.1 245.6 225.3 249.5 227.3 254.7 228.0 259.3 226.9 262.8 224.3 263.9 222.5 264.4 220.8 264.3 218.4 263.7 216.6 261.0 213.7 256.7 211.8ZM406.1 211.8 402.8 211.5 399.6 212.0 396.3 213.4 394.0 215.5 392.7 217.8 392.5 220.8 393.3 223.1 395.4 225.5 399.6 227.6 404.8 227.9 409.4 226.6 411.3 225.3 412.9 223.7 413.8 222.0 414.2 220.2 414.0 218.4 413.3 216.6 410.5 213.7 406.1 211.8ZM334.3 153.3 321.9 153.4 312.1 154.9 307.6 156.3 303.7 158.1 300.4 160.1 297.2 162.8 294.7 165.8 292.6 169.3 291.3 172.9 290.6 177.0 290.7 180.6 291.7 184.1 293.5 187.7 295.8 190.6 301.0 194.8 308.2 198.0 316.7 199.9 327.1 200.6 337.6 200.2 346.7 198.6 354.6 195.5 357.6 193.6 360.4 191.2 362.5 188.8 364.4 185.9 365.5 182.9 366.2 179.4 366.2 176.4 365.5 172.9 364.2 169.3 362.5 166.4 360.4 163.7 357.8 161.2 351.3 157.2 343.5 154.6 334.3 153.3ZM256.0 215.3 252.1 215.2 248.8 216.8 248.0 217.8 247.4 219.6 247.7 221.4 248.5 222.5 250.8 224.1 253.4 224.6 256.1 224.3 258.6 222.9 260.0 220.8 259.8 218.4 258.5 216.6 256.0 215.3ZM405.4 215.4 401.5 215.1 399.6 215.8 398.3 216.8 397.1 218.4 396.8 220.2 397.1 221.4 398.3 222.9 400.8 224.3 403.5 224.6 406.1 224.1 408.4 222.5 409.4 220.8 409.2 218.4 407.9 216.6 405.4 215.4ZM333.0 155.7 321.9 155.9 312.8 157.4 305.6 160.1 302.4 162.2 299.7 164.4 297.1 167.4 295.3 170.5 294.1 174.1 293.6 177.6 293.9 181.2 294.9 184.1 296.5 187.0 298.5 189.4 303.7 193.3 310.2 196.1 318.0 197.8 327.8 198.4 337.6 197.9 345.4 196.5 352.6 193.7 357.8 189.9 359.8 187.7 361.7 184.7 362.6 182.3 363.1 179.4 363.0 176.0 362.4 172.9 361.2 169.9 359.4 167.0 354.6 162.2 348.7 158.9 341.5 156.8 333.0 155.7ZM330.4 158.1 321.3 158.4 313.4 159.9 306.9 162.5 301.7 166.5 299.4 169.3 297.9 172.3 297.0 175.2 296.8 178.2 297.1 181.2 297.9 183.5 299.7 186.5 301.7 188.7 306.9 192.2 313.4 194.6 321.3 195.9 330.4 196.2 338.9 195.5 346.1 193.8 351.7 191.2 356.1 187.7 357.9 185.3 359.1 182.9 360.0 178.2 359.8 175.2 358.9 172.3 355.9 167.3 351.3 163.4 345.4 160.5 338.2 158.7 330.4 158.1ZM336.3 161.0 327.8 160.5 319.3 161.2 312.8 162.8 307.0 165.8 302.7 169.9 300.4 174.7 300.0 177.6 300.1 180.0 300.8 182.3 302.1 184.7 305.5 188.3 310.2 191.0 316.1 192.8 322.6 193.8 331.1 194.0 338.9 193.2 345.4 191.5 350.5 188.8 354.3 185.3 356.4 181.2 356.7 176.4 355.2 171.8 352.0 167.6 348.0 164.7 342.8 162.4 336.3 161.0ZM335.0 163.4 327.1 163.0 320.0 163.6 314.1 165.2 309.5 167.5 305.7 171.1 303.7 175.2 303.4 179.4 305.0 183.5 307.7 186.5 312.1 189.1 317.4 190.7 323.2 191.6 331.1 191.8 337.6 191.1 343.5 189.6 348.0 187.3 351.4 184.1 353.2 180.6 353.5 177.0 352.2 172.9 349.5 169.3 345.4 166.4 340.8 164.5 335.0 163.4ZM333.7 165.7 327.1 165.5 321.3 166.0 316.1 167.3 312.1 169.3 308.9 172.2 307.2 175.2 306.8 178.8 308.0 182.3 310.2 184.8 313.8 187.1 318.0 188.5 323.2 189.4 329.8 189.6 336.3 189.0 341.5 187.7 345.1 185.9 348.4 182.9 349.9 180.0 350.0 176.9 348.8 173.5 346.3 170.5 342.8 168.2 338.9 166.7 333.7 165.7ZM332.4 168.1 327.1 167.9 321.9 168.4 318.0 169.5 314.7 171.1 312.1 173.4 310.7 175.8 310.4 178.8 311.1 181.2 313.2 183.5 316.1 185.2 319.7 186.5 323.9 187.2 329.1 187.4 334.3 187.0 338.9 186.0 342.2 184.5 344.8 182.3 346.2 180.0 346.5 177.6 345.5 174.7 343.6 172.3 340.8 170.4 336.9 168.9 332.4 168.1ZM331.1 170.5 323.2 170.8 320.0 171.7 317.5 172.9 315.5 174.7 314.4 176.4 314.2 178.8 314.9 180.6 316.6 182.3 318.7 183.5 321.9 184.6 325.2 185.1 329.8 185.2 333.7 184.8 336.9 184.0 339.5 182.8 341.5 181.2 342.5 179.4 342.7 177.6 341.8 175.2 340.1 173.5 337.6 172.0 334.3 170.9 331.1 170.5ZM329.8 172.8 324.5 173.1 320.6 174.6 319.1 175.8 318.4 177.0 318.2 178.2 318.4 179.4 319.4 180.6 321.2 181.8 325.8 182.9 331.7 182.8 336.3 181.4 338.0 180.0 338.6 178.8 338.4 177.0 337.7 175.8 336.3 174.7 334.3 173.7 329.8 172.8Z" fill="none" stroke="#000" stroke-width="1.0" stroke-opacity="0.62"/>
</g>
<rect x="100.08" y="63.50" width="456.75" height="236.50" fill="none" stroke="#000" stroke-width="1.6"/>
<path d="M132.70 300.00L132.70 294.80 M132.70 63.50L132.70 68.70 M197.95 300.00L197.95 294.80 M197.95 63.50L197.95 68.70 M263.20 300.00L263.20 294.80 M263.20 63.50L263.20 68.70 M328.45 300.00L328.45 294.80 M328.45 63.50L328.45 68.70 M393.70 300.00L393.70 294.80 M393.70 63.50L393.70 68.70 M458.95 300.00L458.95 294.80 M458.95 63.50L458.95 68.70 M524.20 300.00L524.20 294.80 M524.20 63.50L524.20 68.70 M100.08 300.00L105.28 300.00 M556.82 300.00L551.62 300.00 M100.08 270.44L105.28 270.44 M556.82 270.44L551.62 270.44 M100.08 240.88L105.28 240.88 M556.82 240.88L551.62 240.88 M100.08 211.31L105.28 211.31 M556.82 211.31L551.62 211.31 M100.08 181.75L105.28 181.75 M556.82 181.75L551.62 181.75 M100.08 152.19L105.28 152.19 M556.82 152.19L551.62 152.19 M100.08 122.62L105.28 122.62 M556.82 122.62L551.62 122.62 M100.08 93.06L105.28 93.06 M556.82 93.06L551.62 93.06 M100.08 63.50L105.28 63.50 M556.82 63.50L551.62 63.50" stroke="#000" stroke-width="1.6" fill="none"/>
<path d="M106.60 300.00L106.60 297.40 M106.60 63.50L106.60 66.10 M119.65 300.00L119.65 297.40 M119.65 63.50L119.65 66.10 M145.75 300.00L145.75 297.40 M145.75 63.50L145.75 66.10 M158.80 300.00L158.80 297.40 M158.80 63.50L158.80 66.10 M171.85 300.00L171.85 297.40 M171.85 63.50L171.85 66.10 M184.90 300.00L184.90 297.40 M184.90 63.50L184.90 66.10 M211.00 300.00L211.00 297.40 M211.00 63.50L211.00 66.10 M224.05 300.00L224.05 297.40 M224.05 63.50L224.05 66.10 M237.10 300.00L237.10 297.40 M237.10 63.50L237.10 66.10 M250.15 300.00L250.15 297.40 M250.15 63.50L250.15 66.10 M276.25 300.00L276.25 297.40 M276.25 63.50L276.25 66.10 M289.30 300.00L289.30 297.40 M289.30 63.50L289.30 66.10 M302.35 300.00L302.35 297.40 M302.35 63.50L302.35 66.10 M315.40 300.00L315.40 297.40 M315.40 63.50L315.40 66.10 M341.50 300.00L341.50 297.40 M341.50 63.50L341.50 66.10 M354.55 300.00L354.55 297.40 M354.55 63.50L354.55 66.10 M367.60 300.00L367.60 297.40 M367.60 63.50L367.60 66.10 M380.65 300.00L380.65 297.40 M380.65 63.50L380.65 66.10 M406.75 300.00L406.75 297.40 M406.75 63.50L406.75 66.10 M419.80 300.00L419.80 297.40 M419.80 63.50L419.80 66.10 M432.85 300.00L432.85 297.40 M432.85 63.50L432.85 66.10 M445.90 300.00L445.90 297.40 M445.90 63.50L445.90 66.10 M472.00 300.00L472.00 297.40 M472.00 63.50L472.00 66.10 M485.05 300.00L485.05 297.40 M485.05 63.50L485.05 66.10 M498.10 300.00L498.10 297.40 M498.10 63.50L498.10 66.10 M511.15 300.00L511.15 297.40 M511.15 63.50L511.15 66.10 M537.25 300.00L537.25 297.40 M537.25 63.50L537.25 66.10 M550.30 300.00L550.30 297.40 M550.30 63.50L550.30 66.10 M100.08 294.09L102.68 294.09 M556.82 294.09L554.22 294.09 M100.08 288.18L102.68 288.18 M556.82 288.18L554.22 288.18 M100.08 282.26L102.68 282.26 M556.82 282.26L554.22 282.26 M100.08 276.35L102.68 276.35 M556.82 276.35L554.22 276.35 M100.08 264.52L102.68 264.52 M556.82 264.52L554.22 264.52 M100.08 258.61L102.68 258.61 M556.82 258.61L554.22 258.61 M100.08 252.70L102.68 252.70 M556.82 252.70L554.22 252.70 M100.08 246.79L102.68 246.79 M556.82 246.79L554.22 246.79 M100.08 234.96L102.68 234.96 M556.82 234.96L554.22 234.96 M100.08 229.05L102.68 229.05 M556.82 229.05L554.22 229.05 M100.08 223.14L102.68 223.14 M556.82 223.14L554.22 223.14 M100.08 217.22L102.68 217.22 M556.82 217.22L554.22 217.22 M100.08 205.40L102.68 205.40 M556.82 205.40L554.22 205.40 M100.08 199.49L102.68 199.49 M556.82 199.49L554.22 199.49 M100.08 193.57L102.68 193.57 M556.82 193.57L554.22 193.57 M100.08 187.66L102.68 187.66 M556.82 187.66L554.22 187.66 M100.08 175.84L102.68 175.84 M556.82 175.84L554.22 175.84 M100.08 169.93L102.68 169.93 M556.82 169.93L554.22 169.93 M100.08 164.01L102.68 164.01 M556.82 164.01L554.22 164.01 M100.08 158.10L102.68 158.10 M556.82 158.10L554.22 158.10 M100.08 146.28L102.68 146.28 M556.82 146.28L554.22 146.28 M100.08 140.36L102.68 140.36 M556.82 140.36L554.22 140.36 M100.08 134.45L102.68 134.45 M556.82 134.45L554.22 134.45 M100.08 128.54L102.68 128.54 M556.82 128.54L554.22 128.54 M100.08 116.71L102.68 116.71 M556.82 116.71L554.22 116.71 M100.08 110.80L102.68 110.80 M556.82 110.80L554.22 110.80 M100.08 104.89L102.68 104.89 M556.82 104.89L554.22 104.89 M100.08 98.97L102.68 98.97 M556.82 98.97L554.22 98.97 M100.08 87.15L102.68 87.15 M556.82 87.15L554.22 87.15 M100.08 81.24L102.68 81.24 M556.82 81.24L554.22 81.24 M100.08 75.32L102.68 75.32 M556.82 75.32L554.22 75.32 M100.08 69.41L102.68 69.41 M556.82 69.41L554.22 69.41" stroke="#000" stroke-width="1.0" fill="none"/>
<text x="133.50" y="327.2" font-size="25" text-anchor="middle">–0.3</text>
<text x="198.75" y="327.2" font-size="25" text-anchor="middle">–0.2</text>
<text x="264.00" y="327.2" font-size="25" text-anchor="middle">–0.1</text>
<text x="329.25" y="327.2" font-size="25" text-anchor="middle">0</text>
<text x="394.50" y="327.2" font-size="25" text-anchor="middle">0.1</text>
<text x="459.75" y="327.2" font-size="25" text-anchor="middle">0.2</text>
<text x="525.00" y="327.2" font-size="25" text-anchor="middle">0.3</text>
<text x="89.58" y="308.30" font-size="24" text-anchor="end">0</text>
<text x="89.58" y="278.74" font-size="24" text-anchor="end">0.05</text>
<text x="89.58" y="249.18" font-size="24" text-anchor="end">0.10</text>
<text x="89.58" y="219.61" font-size="24" text-anchor="end">0.15</text>
<text x="89.58" y="190.05" font-size="24" text-anchor="end">0.20</text>
<text x="89.58" y="160.49" font-size="24" text-anchor="end">0.25</text>
<text x="89.58" y="130.92" font-size="24" text-anchor="end">0.30</text>
<text x="89.58" y="101.36" font-size="24" text-anchor="end">0.35</text>
<text x="89.58" y="71.80" font-size="24" text-anchor="end">0.40</text>
<text x="283.45" y="365" font-size="29.6"><tspan font-style="italic">z</tspan> (mm)</text>
<rect x="118.30" y="9.8" width="12.70" height="12.1" fill="#4a79b6"/>
<rect x="130.70" y="9.8" width="24.60" height="12.1" fill="#5f8fc4"/>
<rect x="155.00" y="9.8" width="24.60" height="12.1" fill="#77a9d0"/>
<rect x="179.30" y="9.8" width="24.60" height="12.1" fill="#97bfda"/>
<rect x="203.60" y="9.8" width="24.60" height="12.1" fill="#b8d3e8"/>
<rect x="227.90" y="9.8" width="24.60" height="12.1" fill="#d7e4ef"/>
<rect x="252.20" y="9.8" width="24.60" height="12.1" fill="#e2ecf5"/>
<rect x="276.50" y="9.8" width="24.60" height="12.1" fill="#ebf1f6"/>
<rect x="300.80" y="9.8" width="24.60" height="12.1" fill="#f6f6f6"/>
<rect x="325.10" y="9.8" width="24.60" height="12.1" fill="#f8ede6"/>
<rect x="349.40" y="9.8" width="24.60" height="12.1" fill="#fae8dc"/>
<rect x="373.70" y="9.8" width="24.60" height="12.1" fill="#f9dcc8"/>
<rect x="398.00" y="9.8" width="24.60" height="12.1" fill="#f0c2a8"/>
<rect x="422.30" y="9.8" width="24.60" height="12.1" fill="#eaa684"/>
<rect x="446.60" y="9.8" width="24.60" height="12.1" fill="#e38a66"/>
<rect x="470.90" y="9.8" width="24.60" height="12.1" fill="#d06b56"/>
<rect x="495.20" y="9.8" width="24.60" height="12.1" fill="#b84744"/>
<rect x="519.50" y="9.8" width="12.70" height="12.1" fill="#a32830"/>
<path d="M130.70 9.8V21.9 M155.00 9.8V21.9 M179.30 9.8V21.9 M203.60 9.8V21.9 M227.90 9.8V21.9 M252.20 9.8V21.9 M276.50 9.8V21.9 M300.80 9.8V21.9 M325.10 9.8V21.9 M349.40 9.8V21.9 M373.70 9.8V21.9 M398.00 9.8V21.9 M422.30 9.8V21.9 M446.60 9.8V21.9 M470.90 9.8V21.9 M495.20 9.8V21.9 M519.50 9.8V21.9" stroke="#000" stroke-opacity="0.25" stroke-width="0.8"/>
<rect x="118.30" y="9.8" width="413.60" height="12.1" fill="none" stroke="#000" stroke-opacity="0.15" stroke-width="0.6"/>
<text x="128.90" y="45.9" font-size="18.5" text-anchor="middle">0.15</text>
<text x="177.50" y="45.9" font-size="18.5" text-anchor="middle">0.25</text>
<text x="226.10" y="45.9" font-size="18.5" text-anchor="middle">0.35</text>
<text x="274.70" y="45.9" font-size="18.5" text-anchor="middle">0.45</text>
<text x="323.30" y="45.9" font-size="18.5" text-anchor="middle">0.55</text>
<text x="371.90" y="45.9" font-size="18.5" text-anchor="middle">0.65</text>
<text x="420.50" y="45.9" font-size="18.5" text-anchor="middle">0.75</text>
<text x="469.10" y="45.9" font-size="18.5" text-anchor="middle">0.85</text>
<text x="517.70" y="45.9" font-size="18.5" text-anchor="middle">0.95</text>
<text x="46.50" y="23" font-size="24">|</text>
<text x="52.50" y="23" font-size="24" font-style="italic">U</text>
<path d="M57.10 -0.5L60.90 3.6L64.70 -0.5" fill="none" stroke="#000" stroke-width="1.3"/>
<text x="72.80" y="23" font-size="24">|</text>
<text x="79.50" y="23" font-size="24">[</text>
<path d="M85.50 16.2H101.00" stroke="#000" stroke-width="1.2"/>
<text x="101.60" y="23" font-size="24">]</text>
<text x="0.58" y="76" font-size="29.5">(<tspan font-style="italic">a</tspan>)</text>
<clipPath id="clipb"><rect x="682.02" y="63.50" width="456.75" height="236.50"/></clipPath>
<g clip-path="url(#clipb)">
<path d="M877.8 149.2 864.1 149.2 863.4 149.8 860.8 149.8 860.2 150.4 857.5 150.4 856.9 151.0 854.3 151.0 853.6 151.5 850.4 151.6 849.7 152.1 848.4 152.2 847.8 152.7 846.5 152.7 845.8 153.3 844.5 153.3 843.8 153.9 842.5 153.9 841.9 154.5 840.6 154.5 839.9 155.1 838.6 155.1 838.0 155.7 836.7 155.7 830.8 158.6 829.5 158.7 823.6 161.6 823.0 161.6 817.7 165.2 815.8 165.8 811.9 168.7 811.2 168.7 806.0 173.4 805.3 173.5 802.7 175.8 802.7 176.4 800.8 178.2 800.7 178.8 798.8 180.6 798.8 181.2 796.8 182.9 796.8 183.5 793.6 187.1 793.6 188.3 792.3 190.0 792.3 191.2 791.0 193.0 790.3 195.9 789.7 196.5 789.7 197.7 789.0 198.3 789.0 200.1 788.4 200.7 788.4 202.4 787.7 203.0 787.7 206.6 787.1 207.2 787.1 220.8 787.7 221.4 787.7 224.9 788.4 225.5 788.4 226.7 789.0 227.3 789.0 229.1 789.7 229.6 789.7 231.4 791.0 233.2 791.0 233.8 794.9 238.5 794.9 239.1 796.9 240.9 797.5 240.9 798.8 242.1 799.5 242.1 800.8 243.3 801.4 243.3 803.4 245.0 804.0 245.0 808.0 248.0 808.6 248.0 811.2 249.8 813.8 249.8 814.5 250.3 817.1 250.4 817.7 250.9 820.4 251.0 821.0 251.5 832.1 251.6 832.8 252.1 842.5 252.1 843.2 251.6 853.6 251.6 854.3 251.0 857.5 251.0 858.2 250.4 861.5 250.4 862.1 249.8 867.3 249.8 868.0 249.2 871.2 248.6 873.2 247.5 876.5 246.8 877.1 246.3 878.4 246.2 879.1 245.7 880.4 245.6 882.3 244.5 883.6 244.4 886.3 242.7 886.9 242.7 888.2 241.5 888.9 241.5 890.2 240.3 890.8 240.3 892.8 238.5 893.4 238.5 896.7 235.6 897.4 233.8 898.7 232.6 898.7 232.0 902.6 225.5 902.6 224.3 903.3 223.7 903.3 222.5 903.9 222.0 903.9 220.8 904.6 220.2 904.6 219.0 905.2 218.4 905.2 217.2 905.9 216.6 905.9 214.3 906.5 213.7 906.6 209.5 907.2 208.9 907.2 204.8 907.8 204.2 907.8 185.9 907.2 185.3 907.2 181.2 906.6 180.6 906.5 178.2 905.9 177.6 905.9 174.7 905.2 174.1 905.2 172.3 904.6 171.7 904.5 169.9 903.9 169.3 903.9 168.2 903.3 167.6 903.2 166.4 902.6 165.8 902.6 164.0 901.3 162.2 901.3 161.6 900.0 160.5 900.0 159.9 898.7 158.7 898.7 158.1 896.7 155.7 894.1 153.9 893.4 153.9 888.9 151.6 887.6 151.6 886.9 151.0 884.3 151.0 883.6 150.4 881.7 150.4 881.0 149.8 878.4 149.8 877.8 149.2ZM956.7 149.2 943.0 149.2 942.4 149.8 939.8 149.8 939.1 150.4 937.2 150.4 936.5 151.0 933.9 151.0 933.2 151.6 931.9 151.6 927.4 153.9 926.7 153.9 924.1 155.7 922.1 158.1 922.1 158.7 920.8 159.9 920.8 160.5 919.5 161.6 919.5 162.2 918.2 164.0 918.2 165.8 917.5 166.4 917.5 167.6 916.8 168.2 916.8 169.3 916.2 169.9 916.1 171.7 915.4 172.3 915.4 174.1 914.7 174.7 914.6 177.6 914.0 178.2 913.9 180.6 913.3 181.2 913.3 185.3 912.7 185.9 913.0 204.2 913.6 204.8 913.6 208.9 914.2 209.5 914.3 213.7 914.9 214.3 914.9 216.6 915.6 217.2 915.6 218.4 916.2 219.0 916.2 220.2 916.9 220.8 916.9 222.0 917.5 222.5 917.5 223.7 918.2 224.3 918.2 225.5 922.1 232.0 922.1 232.6 923.4 233.8 924.1 235.6 927.4 238.5 928.0 238.5 930.0 240.3 930.6 240.3 931.9 241.5 932.6 241.5 933.9 242.7 934.5 242.7 937.2 244.4 938.5 244.5 940.4 245.6 941.7 245.7 942.4 246.2 943.7 246.3 944.3 246.8 947.6 247.5 949.5 248.6 952.8 249.2 953.5 249.8 958.7 249.8 959.3 250.4 962.6 250.4 963.3 251.0 966.5 251.0 967.2 251.6 977.6 251.6 978.3 252.1 987.4 252.1 988.0 252.1 988.7 251.6 999.8 251.5 1000.4 251.0 1003.1 250.9 1003.7 250.4 1006.3 250.3 1007.0 249.8 1009.6 249.8 1010.2 249.2 1010.9 249.2 1014.8 246.2 1015.5 246.2 1016.8 245.0 1017.4 245.0 1019.4 243.3 1020.0 243.3 1021.3 242.1 1022.0 242.1 1023.3 240.9 1023.9 240.9 1025.9 239.1 1025.9 238.5 1029.8 233.8 1029.8 233.2 1031.1 231.4 1031.1 229.6 1031.8 229.1 1031.8 227.3 1032.4 226.7 1032.4 225.5 1033.1 224.9 1033.1 221.4 1033.7 220.8 1033.7 207.2 1033.1 206.6 1033.1 203.0 1032.4 202.4 1032.4 200.7 1031.8 200.1 1031.8 198.3 1031.1 197.7 1031.1 196.5 1030.5 195.9 1029.8 193.0 1028.5 191.2 1028.5 190.0 1027.2 188.3 1027.2 187.1 1024.0 183.5 1024.0 182.9 1022.0 181.2 1022.0 180.6 1020.1 178.8 1020.0 178.2 1018.1 176.4 1018.1 175.8 1015.5 173.5 1014.8 173.4 1009.6 168.7 1008.9 168.7 1007.0 166.9 1006.3 166.9 1005.0 165.8 1003.1 165.2 997.8 161.6 997.2 161.6 991.3 158.7 990.0 158.6 984.1 155.7 982.8 155.7 982.2 155.1 980.9 155.1 980.2 154.5 978.9 154.5 978.3 153.9 977.0 153.9 976.3 153.3 973.0 152.7 972.4 152.2 971.1 152.1 970.4 151.6 967.2 151.5 966.5 151.0 963.9 151.0 963.3 150.4 960.6 150.4 960.0 149.8 957.4 149.8 956.7 149.2Z" fill="#4a79b6" fill-rule="evenodd"/>
<path d="M873.9 153.3 864.7 152.8 854.9 153.7 846.5 155.5 836.7 158.8 827.5 163.2 817.7 169.3 810.6 175.2 804.7 181.8 800.1 188.8 796.9 196.5 795.1 204.8 794.9 213.3 796.2 221.3 798.8 228.1 803.1 234.4 808.6 239.4 812.5 242.0 816.4 244.0 821.0 245.7 826.2 247.1 839.9 249.2 849.1 249.4 855.6 249.1 868.0 247.2 879.7 243.1 884.3 240.8 888.9 237.8 892.2 235.0 895.4 231.4 898.8 226.1 901.3 220.8 903.4 214.9 904.7 208.4 905.4 201.9 905.5 189.4 905.0 182.9 904.0 178.2 902.4 173.5 899.8 168.7 896.7 164.7 892.8 160.9 888.9 158.1 885.0 156.2 879.1 154.3 873.9 153.3ZM962.6 153.3 955.4 152.8 948.2 153.2 941.7 154.3 935.8 156.2 930.6 158.9 924.8 163.1 920.8 166.9 917.6 171.3 915.3 175.8 914.3 178.7 914.3 180.6 913.7 181.3 913.6 185.3 913.1 185.9 913.2 191.2 914.3 200.1 917.0 213.1 918.5 218.4 920.7 223.7 923.4 228.5 925.9 232.0 928.7 235.1 932.6 238.3 937.2 241.2 941.1 243.1 947.4 245.6 953.5 247.4 967.8 249.3 981.5 249.1 995.9 246.8 1001.1 245.3 1005.7 243.4 1012.2 239.4 1017.7 234.4 1021.5 229.1 1024.2 222.5 1025.8 214.9 1025.9 206.6 1024.6 198.9 1021.6 190.6 1017.8 184.1 1012.6 177.6 1006.2 171.7 999.1 166.7 990.7 161.8 981.5 157.8 971.7 154.8 962.6 153.3Z" fill="#5f8fc4" fill-rule="evenodd"/>
<path d="M866.0 155.7 858.2 155.8 849.7 157.1 841.2 159.6 833.4 163.1 825.2 168.2 817.8 174.1 812.4 180.0 808.2 186.5 805.2 193.6 803.7 201.3 803.6 211.3 804.9 220.2 807.2 226.7 810.5 232.0 815.2 236.7 821.0 240.6 826.2 243.0 831.4 244.8 842.5 246.9 854.3 247.3 866.0 245.8 871.2 244.3 876.5 242.4 881.0 240.1 885.0 237.7 888.9 234.5 891.9 231.4 894.6 227.9 897.1 223.7 899.0 219.6 900.9 214.3 902.0 208.9 902.5 203.6 903.1 192.4 903.0 185.9 902.2 180.6 900.4 175.2 898.4 171.7 895.4 167.9 892.1 165.0 888.2 162.4 882.3 159.6 877.1 157.6 871.9 156.4 866.0 155.7ZM961.3 155.7 954.8 155.7 948.2 156.5 943.0 157.8 935.2 160.7 930.0 163.3 925.5 166.4 921.7 169.9 919.1 173.5 917.3 177.0 915.9 181.2 915.3 185.3 915.2 190.0 917.1 203.6 919.2 211.9 921.3 218.4 923.1 222.5 925.8 227.3 928.4 230.8 931.8 234.4 935.4 237.3 939.8 240.1 948.9 244.1 954.1 245.6 959.3 246.6 965.9 247.3 971.7 247.4 978.3 246.9 984.1 246.0 995.2 242.8 1001.1 240.0 1007.1 235.6 1011.2 230.8 1014.6 224.3 1016.6 216.6 1017.3 206.6 1016.7 198.3 1014.5 190.6 1011.3 184.1 1006.4 177.6 1000.4 171.8 993.0 166.4 985.4 162.1 977.6 158.9 969.8 156.8 961.3 155.7Z" fill="#77a9d0" fill-rule="evenodd"/>
<path d="M865.4 158.1 856.9 158.2 849.1 159.4 841.2 161.8 833.1 165.8 826.1 170.5 820.3 175.8 815.7 181.8 811.8 188.8 809.3 196.5 808.3 204.2 808.7 212.5 810.4 220.2 813.4 227.3 817.5 233.2 822.8 237.9 828.8 241.3 833.4 242.9 838.6 244.2 849.7 245.4 860.2 244.9 869.9 242.9 879.1 239.0 886.3 234.1 889.5 231.0 892.1 227.8 896.7 219.8 898.7 214.4 900.0 208.4 901.2 193.0 900.8 183.5 899.8 179.4 898.3 175.8 896.1 172.3 893.4 169.3 890.2 166.6 886.3 164.1 881.0 161.8 875.2 159.9 870.6 158.8 865.4 158.1ZM962.6 158.1 956.7 158.0 950.9 158.6 945.0 159.9 938.5 162.0 933.2 164.2 928.7 166.8 925.4 169.3 922.1 172.8 920.1 175.8 918.4 179.4 917.5 182.9 917.1 187.1 917.2 191.8 917.9 197.7 920.8 210.7 924.8 221.2 929.3 228.6 932.3 232.0 935.5 235.0 939.1 237.5 943.7 240.1 948.9 242.2 953.5 243.6 958.7 244.7 964.6 245.3 970.4 245.4 977.0 244.9 988.0 242.7 995.2 239.9 1001.1 236.2 1005.7 231.4 1008.9 226.1 1011.2 219.0 1012.4 209.5 1012.2 201.3 1010.6 193.0 1007.9 186.5 1003.9 180.0 999.1 174.5 993.1 169.3 986.1 164.9 978.3 161.4 970.4 159.1 962.6 158.1Z" fill="#97bfda" fill-rule="evenodd"/>
<path d="M866.7 161.0 858.9 160.6 851.7 161.4 844.5 163.2 836.7 166.7 830.1 171.0 824.7 175.8 819.8 181.8 816.0 188.3 813.5 195.3 812.3 203.0 812.6 211.3 814.1 218.4 816.7 225.5 820.3 231.4 824.9 235.9 830.8 239.4 834.7 240.9 839.3 242.1 849.7 243.3 860.2 242.9 869.3 241.0 877.8 237.4 884.6 232.6 890.5 226.1 894.6 219.0 896.4 214.3 897.7 208.9 899.6 194.8 899.4 185.3 898.5 181.2 897.2 177.6 895.4 174.4 892.8 171.3 890.2 169.0 886.9 166.9 878.4 163.5 866.7 161.0ZM967.2 161.0 958.0 160.6 948.2 161.8 937.8 164.5 930.6 167.8 924.8 172.5 921.1 177.6 919.1 183.5 918.6 190.6 920.2 202.4 923.0 211.9 928.4 223.1 931.2 227.3 934.3 230.8 941.1 236.2 945.6 238.7 950.2 240.5 960.0 242.8 969.8 243.3 978.9 242.4 987.4 240.5 993.9 237.7 999.8 233.6 1004.2 228.5 1007.0 222.5 1008.5 215.5 1008.8 207.2 1008.0 198.3 1006.0 191.2 1002.9 184.7 997.7 177.6 991.3 171.5 984.1 166.7 976.3 163.2 967.2 161.0Z" fill="#b8d3e8" fill-rule="evenodd"/>
<path d="M865.4 163.4 858.2 163.1 851.0 164.0 844.5 165.8 838.0 168.8 831.8 172.9 826.2 178.1 821.9 183.5 818.4 190.0 816.1 197.1 815.2 204.2 815.8 211.7 817.5 219.6 820.0 226.1 823.2 230.8 827.5 234.9 832.8 237.8 840.6 240.2 850.4 241.2 860.8 240.6 869.9 238.5 877.1 235.3 883.6 230.6 888.9 224.9 892.8 218.1 894.7 213.0 896.2 207.8 897.4 201.3 898.2 194.2 898.4 189.4 898.0 185.3 897.2 181.8 895.7 178.2 893.9 175.2 891.5 172.5 888.9 170.4 885.6 168.4 881.7 166.8 877.1 165.4 865.4 163.4ZM965.9 163.4 956.1 163.3 944.3 164.8 935.2 167.5 931.3 169.4 928.7 171.2 926.1 173.5 923.7 176.4 922.0 179.4 920.8 182.5 920.1 185.9 919.9 190.0 920.7 198.9 922.1 204.2 924.1 210.1 928.7 219.8 933.9 227.3 937.2 230.6 940.4 233.2 944.1 235.6 948.9 237.8 957.7 240.3 968.5 241.1 979.6 240.2 986.7 238.4 993.0 235.6 997.9 232.0 1002.0 227.3 1004.6 222.0 1005.9 216.0 1006.3 208.9 1005.4 200.7 1003.7 193.5 1001.0 187.1 997.2 181.2 992.0 175.4 986.1 170.8 979.6 167.2 973.0 164.8 965.9 163.4Z" fill="#d7e4ef" fill-rule="evenodd"/>
<path d="M867.3 166.4 858.9 166.2 853.0 166.6 846.7 168.2 840.9 170.5 835.1 174.1 830.1 178.2 825.6 183.5 822.3 188.8 819.8 195.3 818.7 201.3 818.8 210.1 819.9 218.4 821.6 223.7 824.3 228.5 828.2 232.6 832.8 235.5 839.9 237.9 848.4 238.8 858.9 238.2 868.6 236.2 875.7 233.2 881.7 229.1 886.3 224.3 890.4 217.8 894.3 207.8 896.6 197.1 896.9 192.4 896.8 187.7 896.0 183.5 894.8 180.0 893.1 177.0 890.8 174.4 888.2 172.2 885.0 170.2 881.0 168.6 877.1 167.5 867.3 166.4ZM965.2 166.4 954.1 165.9 943.7 166.9 935.2 169.5 931.9 171.1 928.7 173.4 926.1 175.8 924.4 178.2 922.8 181.3 921.8 184.7 921.2 188.3 921.2 192.4 922.5 200.7 926.1 210.7 931.3 220.0 937.2 227.2 940.4 230.0 944.2 232.6 948.2 234.7 952.8 236.4 962.6 238.3 973.7 238.6 983.5 237.1 989.4 235.1 994.5 232.0 998.5 228.3 1001.4 223.7 1003.1 219.0 1003.9 213.1 1003.6 206.6 1002.2 199.5 999.9 192.4 997.2 186.7 993.9 181.8 989.4 177.0 984.0 172.9 978.3 169.8 971.9 167.6 965.2 166.4Z" fill="#e2ecf5" fill-rule="evenodd"/>
<path d="M875.8 169.3 869.3 168.8 860.8 169.2 851.7 170.3 845.8 171.8 840.6 174.2 836.0 177.2 831.6 181.2 828.2 185.3 825.2 190.6 823.3 196.5 822.1 205.4 821.9 213.7 822.8 219.6 824.5 224.3 827.2 228.5 830.8 231.8 836.7 234.9 843.8 236.4 851.7 236.6 860.8 235.3 869.3 232.8 875.8 229.7 881.3 225.5 885.9 220.2 890.6 211.9 894.0 202.4 895.4 193.6 895.0 185.9 894.1 182.7 892.8 179.8 890.8 176.9 888.6 174.7 886.2 172.9 883.0 171.2 875.8 169.3ZM959.3 168.7 948.9 168.3 939.8 169.7 935.8 171.1 932.6 172.7 929.3 175.1 926.8 177.6 924.9 180.6 923.6 183.5 922.8 187.0 922.5 190.6 923.5 198.9 926.6 207.8 930.8 215.5 937.2 223.5 943.0 228.5 950.2 232.4 954.8 234.0 960.0 235.3 970.4 236.4 980.2 235.7 988.0 233.3 992.6 230.7 996.4 227.3 999.2 223.1 1000.9 218.4 1001.6 213.1 1001.2 207.2 1000.0 201.9 997.4 194.8 994.8 189.4 991.2 184.1 987.4 179.9 982.8 176.2 977.6 173.3 973.0 171.5 966.5 169.8 959.3 168.7Z" fill="#ebf1f6" fill-rule="evenodd"/>
<path d="M873.9 171.1 868.0 171.0 861.5 171.7 853.6 173.3 846.9 175.2 841.9 177.4 838.0 179.9 834.6 182.9 831.7 186.5 828.8 191.8 826.4 198.9 824.8 206.6 824.4 213.1 825.0 218.4 826.6 223.1 829.2 227.3 832.8 230.5 838.0 233.1 844.5 234.4 852.3 234.4 860.8 232.9 868.6 230.3 875.2 226.8 880.5 222.5 885.5 216.6 889.5 209.5 892.8 200.1 893.9 192.4 893.8 188.8 893.2 185.3 890.8 179.8 888.9 177.4 886.4 175.2 881.0 172.5 873.9 171.1ZM954.8 170.5 945.6 170.5 941.7 171.1 937.6 172.3 934.5 173.6 931.3 175.7 928.7 178.1 926.8 180.6 925.4 183.5 924.5 186.5 924.1 190.0 924.2 194.2 924.9 198.3 926.1 202.3 929.7 210.1 934.5 217.3 940.4 223.4 946.9 228.0 954.8 231.5 963.9 233.7 973.7 234.2 982.2 233.1 986.1 231.9 989.4 230.3 993.3 227.4 995.9 224.3 998.0 220.2 999.1 215.5 999.2 210.1 998.1 204.2 996.1 198.3 993.5 193.0 990.4 188.3 986.7 183.9 982.8 180.3 978.3 177.3 973.0 174.7 967.2 172.7 960.6 171.2 954.8 170.5Z" fill="#f6f6f6" fill-rule="evenodd"/>
<path d="M877.1 173.5 871.9 172.9 866.7 173.2 860.2 174.4 854.3 176.2 848.4 178.8 843.4 181.8 839.3 185.0 835.8 188.8 832.6 193.6 829.7 199.5 827.8 205.4 826.9 211.3 827.0 216.6 828.2 221.0 830.3 224.9 833.4 228.2 838.0 230.8 843.8 232.4 850.4 232.6 858.2 231.3 865.4 229.0 872.6 225.2 878.4 220.8 883.0 215.9 887.2 209.5 890.3 202.4 892.1 194.8 892.0 188.3 890.4 182.9 887.6 178.7 883.0 175.4 877.1 173.5ZM951.5 172.3 943.0 172.8 936.5 174.7 933.4 176.4 931.1 178.2 929.0 180.6 927.4 183.3 926.2 186.5 925.7 189.4 925.7 193.0 926.1 196.5 928.4 203.6 932.6 211.3 937.8 217.8 943.7 222.9 950.9 227.2 958.7 230.2 967.2 231.9 975.6 232.1 982.8 230.8 986.1 229.5 989.0 227.9 992.5 224.9 994.9 221.4 996.4 217.2 997.0 213.1 996.7 208.4 995.6 203.6 993.4 198.3 990.7 193.5 987.1 188.8 983.5 185.1 978.9 181.4 974.3 178.6 969.1 176.1 963.3 174.2 957.4 172.9 951.5 172.3Z" fill="#f8ede6" fill-rule="evenodd"/>
<path d="M875.8 175.2 871.2 174.9 866.0 175.4 860.8 176.6 855.6 178.5 850.4 181.0 845.6 184.1 841.4 187.7 837.6 191.8 834.4 196.5 831.7 201.9 830.0 207.2 829.2 211.9 829.4 216.0 830.4 220.2 832.3 223.7 835.2 226.7 839.9 229.3 845.1 230.5 851.7 230.4 858.2 229.1 865.4 226.4 871.9 222.7 877.4 218.4 882.2 213.1 886.3 207.0 889.0 200.7 890.3 194.2 890.1 188.3 888.5 183.5 885.6 179.7 881.0 176.7 875.8 175.2ZM955.4 174.7 947.6 174.2 940.4 175.3 937.2 176.5 934.5 178.0 930.6 181.8 929.1 184.1 928.0 187.1 927.4 193.0 927.9 196.5 928.9 200.1 932.2 207.2 937.0 213.7 943.0 219.4 949.5 223.8 957.4 227.4 965.9 229.6 973.7 230.1 980.9 229.1 986.7 226.7 989.8 224.3 992.2 221.4 993.8 217.8 994.6 214.3 994.6 210.1 993.8 206.0 992.4 201.9 990.0 197.2 987.1 193.0 984.0 189.4 980.2 185.9 975.6 182.5 971.1 179.8 965.9 177.5 960.6 175.8 955.4 174.7Z" fill="#fae8dc" fill-rule="evenodd"/>
<path d="M873.2 177.0 868.6 177.1 864.1 177.9 859.3 179.4 854.3 181.6 849.7 184.3 845.8 187.3 841.9 190.9 838.6 194.8 835.9 198.9 833.6 203.6 832.2 208.4 831.6 212.5 831.8 216.0 832.8 219.6 834.7 222.8 837.3 225.3 841.2 227.3 846.5 228.4 852.3 228.2 858.9 226.7 865.4 224.1 871.2 220.5 876.6 216.0 881.4 210.7 885.1 204.8 887.4 198.9 888.4 193.6 888.0 188.3 886.3 184.0 883.0 180.4 878.4 178.0 873.2 177.0ZM952.8 176.4 945.6 176.4 939.8 177.7 934.8 180.6 932.9 182.3 931.3 184.7 929.7 189.4 929.7 195.3 931.4 201.3 935.0 207.8 939.8 213.6 945.6 218.6 952.2 222.7 959.3 225.7 967.2 227.6 974.3 227.9 980.9 226.8 985.9 224.3 988.5 222.0 990.6 219.0 991.7 216.0 992.2 212.5 992.0 208.9 991.0 204.8 989.2 200.7 986.7 196.5 983.5 192.4 980.2 189.0 976.3 185.8 972.0 182.9 967.5 180.6 962.6 178.6 957.4 177.1 952.8 176.4Z" fill="#f9dcc8" fill-rule="evenodd"/>
<path d="M873.9 179.4 869.9 179.2 865.4 179.8 860.8 181.1 856.9 182.8 852.4 185.3 848.4 188.1 844.5 191.6 841.2 195.3 838.3 199.5 836.2 203.6 834.8 207.8 834.2 211.3 834.3 214.9 835.3 218.4 836.7 220.8 839.0 223.1 842.5 225.1 847.1 226.1 852.3 226.0 858.2 224.7 864.1 222.3 869.6 219.0 874.7 214.9 879.1 210.2 882.7 204.8 885.0 199.6 886.0 194.8 885.9 190.0 884.5 185.9 882.1 182.9 878.4 180.6 873.9 179.4ZM954.1 178.7 947.6 178.4 941.7 179.5 937.2 181.9 933.9 185.3 932.2 189.4 932.0 194.8 933.3 200.1 936.5 206.2 941.1 211.8 946.3 216.3 952.8 220.5 959.3 223.4 966.5 225.2 973.0 225.6 978.9 224.7 983.6 222.5 986.1 220.4 988.0 217.8 989.1 214.9 989.5 211.9 989.2 208.4 988.3 204.8 986.8 201.3 984.8 197.8 978.9 191.0 971.5 185.3 963.2 181.2 958.7 179.7 954.1 178.7Z" fill="#f0c2a8" fill-rule="evenodd"/>
<path d="M870.6 181.7 867.3 181.9 863.4 182.7 859.5 184.0 855.6 185.9 848.4 191.0 842.7 197.1 840.3 200.7 838.6 204.2 837.5 207.8 837.1 210.7 837.2 213.7 838.0 216.6 839.3 219.0 841.2 220.9 844.5 222.7 849.1 223.6 853.6 223.4 858.9 222.1 864.1 219.9 869.3 216.6 873.9 212.7 877.7 208.4 880.7 203.6 882.6 198.9 883.4 194.2 882.9 190.0 881.2 186.5 878.7 184.1 875.2 182.4 870.6 181.7ZM953.5 181.1 947.6 181.1 943.0 182.1 939.1 184.3 936.3 187.7 934.9 191.8 935.1 196.5 936.6 201.3 939.8 206.6 943.9 211.3 948.9 215.4 954.8 218.9 960.6 221.3 966.5 222.7 972.4 223.0 977.6 222.1 981.5 220.1 983.5 218.4 985.1 216.0 986.0 213.7 986.4 210.7 986.2 207.8 985.2 204.2 981.7 197.7 976.3 191.8 969.1 186.5 961.3 182.9 953.5 181.1Z" fill="#eaa684" fill-rule="evenodd"/>
<path d="M870.6 184.7 867.3 184.6 864.1 185.1 857.5 187.5 851.0 191.7 845.6 197.1 841.9 203.0 840.2 208.9 840.2 211.9 840.8 214.3 842.0 216.6 843.7 218.4 846.5 220.0 850.4 220.8 854.3 220.6 858.9 219.6 863.4 217.6 867.3 215.2 871.2 212.1 874.7 208.4 877.2 204.8 879.1 200.7 880.1 196.5 880.1 193.0 879.1 189.9 877.1 187.4 874.5 185.7 870.6 184.7ZM955.4 184.0 950.2 183.8 945.7 184.7 942.3 186.5 939.8 189.3 938.5 192.4 938.4 196.5 939.6 200.7 942.2 205.4 945.7 209.5 949.8 213.1 954.8 216.2 960.0 218.5 965.2 219.9 970.4 220.2 975.0 219.5 978.5 217.8 980.2 216.3 981.7 214.3 982.6 211.9 982.9 209.5 982.0 204.2 979.2 198.9 974.6 193.6 969.1 189.3 962.6 186.0 955.4 184.0Z" fill="#e38a66" fill-rule="evenodd"/>
<path d="M868.6 187.6 863.4 188.0 857.5 190.2 852.3 193.7 847.8 198.3 844.7 203.6 843.5 208.4 844.0 212.5 845.0 214.3 846.5 215.8 849.1 217.2 851.7 217.8 854.9 217.7 858.9 216.8 862.8 215.2 866.3 213.1 869.8 210.1 872.5 207.2 874.5 204.2 876.1 200.7 876.9 197.1 876.7 194.2 875.8 191.7 873.9 189.5 871.5 188.3 868.6 187.6ZM956.1 187.0 952.2 186.8 948.2 187.5 945.6 188.8 943.3 191.2 942.1 194.2 942.1 197.7 943.2 201.3 945.2 204.8 948.2 208.4 951.6 211.3 955.4 213.7 960.0 215.8 964.6 216.9 968.5 217.2 972.4 216.7 975.6 215.1 978.3 212.2 979.2 208.4 978.6 204.2 976.2 199.5 972.4 195.0 967.4 191.2 961.9 188.5 956.1 187.0Z" fill="#d06b56" fill-rule="evenodd"/>
<path d="M868.0 191.1 864.1 191.0 859.5 192.3 854.9 195.0 851.3 198.3 848.5 202.4 847.2 206.6 847.5 210.1 849.1 212.6 851.0 213.9 853.0 214.4 855.6 214.5 858.2 214.0 864.1 211.4 869.0 207.2 870.8 204.8 872.4 201.9 873.1 199.5 873.3 197.1 873.0 195.3 871.9 193.4 870.0 191.8 868.0 191.1ZM958.7 190.5 955.4 190.1 952.2 190.3 949.5 191.2 947.6 192.8 946.4 194.8 946.0 197.1 946.4 200.1 947.8 203.0 949.9 206.0 952.4 208.4 955.7 210.7 959.3 212.5 963.3 213.6 966.5 213.9 969.8 213.5 972.1 212.5 974.3 210.2 975.1 207.8 974.8 204.2 973.3 200.7 970.5 197.1 967.2 194.4 963.3 192.1 958.7 190.5Z" fill="#b84744" fill-rule="evenodd"/>
<path d="M866.0 195.1 863.4 194.8 860.2 195.6 857.2 197.1 854.5 199.5 852.4 202.4 851.5 205.4 851.7 207.8 853.0 209.5 855.6 210.6 859.4 210.1 863.0 208.4 866.0 205.8 868.2 202.4 868.9 199.5 868.7 197.7 868.1 196.5 866.0 195.1ZM958.7 194.1 954.6 194.2 952.8 194.9 951.7 195.9 951.0 197.1 950.7 198.9 951.0 200.7 952.1 203.0 955.4 206.6 960.0 209.2 964.6 210.1 966.5 209.8 968.5 209.0 969.8 207.7 970.5 205.4 970.1 203.0 968.9 200.7 966.8 198.3 964.6 196.5 961.9 195.1 958.7 194.1Z" fill="#a32830" fill-rule="evenodd"/>
<path d="M873.2 141.5 860.2 141.5 859.5 142.1 856.2 142.1 855.6 142.6 852.3 142.7 851.7 143.2 849.1 143.3 848.4 143.8 847.1 143.9 846.5 144.4 844.5 144.4 843.8 145.0 842.5 145.0 841.9 145.6 840.6 145.6 839.9 146.2 838.0 146.2 836.0 147.4 835.4 147.4 834.1 148.6 832.1 149.2 830.8 150.3 827.5 151.5 826.2 152.7 824.3 153.3 815.1 161.6 815.0 162.2 809.8 167.6 809.8 168.2 808.5 169.3 808.5 169.9 807.2 171.1 807.2 171.7 805.9 172.9 805.9 173.5 804.0 175.2 803.9 175.8 798.8 181.2 798.7 181.8 796.8 184.7 796.8 185.9 795.5 187.7 795.5 188.8 794.8 189.4 794.8 192.4 794.2 193.0 794.1 198.9 793.5 199.5 793.5 200.1 793.6 230.2 794.2 230.8 794.2 233.8 794.8 234.4 794.9 237.3 799.4 245.0 799.4 245.6 809.9 254.5 810.6 254.5 812.5 255.7 815.8 256.3 817.7 257.5 821.0 258.1 821.7 258.7 824.9 258.7 825.6 259.3 828.8 259.3 829.5 259.8 850.4 259.9 851.0 259.3 855.6 259.3 856.2 258.7 860.2 258.7 860.8 258.1 864.1 258.1 864.7 257.5 866.7 257.5 867.3 256.9 869.3 256.9 869.9 256.3 871.9 256.3 874.5 255.2 875.8 255.1 880.4 252.8 881.7 252.8 884.3 251.6 889.5 248.1 890.2 248.0 892.1 246.3 892.8 246.2 892.9 245.6 898.7 240.3 898.8 239.1 900.7 236.1 900.7 235.0 902.6 232.0 902.7 230.8 903.3 230.2 903.3 229.1 904.0 228.5 904.0 227.3 904.6 226.7 904.7 225.5 905.3 224.9 905.3 223.1 905.9 222.5 906.0 221.4 906.6 220.8 906.6 219.6 907.2 219.0 907.3 217.2 907.9 216.6 907.9 213.7 908.5 213.1 908.6 210.1 909.2 209.5 909.2 206.6 909.8 206.0 909.8 205.4 907.9 202.4 907.9 201.3 907.3 200.7 907.3 186.5 907.9 185.9 908.0 183.5 910.0 180.6 909.9 180.0 909.3 179.4 909.2 177.6 908.6 177.0 908.5 175.2 907.9 174.7 907.9 172.9 907.2 172.3 907.2 170.5 906.6 169.9 906.6 168.7 905.9 168.2 905.9 166.4 905.3 165.8 905.2 164.0 904.6 163.4 904.6 162.2 903.3 160.5 903.3 159.3 900.0 154.0 900.0 153.4 898.1 151.6 898.0 151.0 892.1 145.7 888.9 145.0 888.2 144.5 886.9 144.4 886.3 143.9 885.0 143.8 884.3 143.3 883.0 143.2 882.3 142.7 880.4 142.7 879.7 142.1 873.9 142.1 873.2 141.5ZM960.6 141.5 947.6 141.5 946.9 142.1 941.1 142.1 940.4 142.7 938.5 142.7 937.8 143.2 936.5 143.3 935.8 143.8 934.5 143.9 933.9 144.4 932.6 144.5 931.9 145.0 928.7 145.7 922.8 151.0 922.7 151.6 920.8 153.4 920.8 154.0 917.5 159.3 917.5 160.5 916.2 162.2 916.2 163.4 915.6 164.0 915.5 165.8 914.9 166.4 914.8 168.2 914.2 168.7 914.1 169.9 913.5 170.5 913.4 172.3 912.8 172.9 912.0 177.0 911.4 177.6 911.4 179.4 910.8 180.0 910.8 180.6 912.4 183.5 913.4 200.7 911.0 206.0 911.6 206.6 911.6 209.5 912.2 210.1 912.3 213.1 912.9 213.7 912.9 216.6 913.5 217.2 913.6 219.0 914.2 219.6 914.2 220.8 914.8 221.4 914.9 222.5 915.5 223.1 915.5 224.9 916.1 225.5 916.2 226.7 916.8 227.3 916.8 228.5 917.5 229.1 917.5 230.2 918.1 230.8 918.2 232.0 920.1 235.0 920.1 236.1 922.0 239.1 922.1 240.3 927.9 245.6 928.0 246.2 928.7 246.3 930.6 248.0 931.3 248.1 936.5 251.6 939.1 252.8 940.4 252.8 945.0 255.1 946.3 255.2 948.9 256.3 953.5 256.9 954.1 257.5 956.1 257.5 956.7 258.1 960.0 258.1 960.6 258.7 964.6 258.7 965.2 259.3 969.8 259.3 970.4 259.9 990.7 259.9 991.3 259.8 992.0 259.3 995.2 259.3 995.9 258.7 999.1 258.7 999.8 258.1 1001.1 258.1 1001.8 257.5 1003.1 257.5 1005.0 256.3 1008.3 255.7 1010.2 254.5 1010.9 254.5 1021.4 245.6 1021.4 245.0 1025.9 237.3 1026.0 234.4 1026.6 233.8 1026.6 230.8 1027.2 230.2 1027.3 200.1 1027.3 199.5 1026.7 198.9 1026.6 193.0 1026.0 192.4 1026.0 189.4 1025.3 188.8 1025.3 187.7 1024.0 185.9 1024.0 184.7 1022.1 181.8 1022.0 181.2 1019.5 178.8 1019.4 178.2 1014.9 173.5 1014.9 172.9 1013.6 171.7 1013.6 171.1 1012.3 169.9 1012.3 169.3 1011.0 168.2 1011.0 167.6 1009.0 165.8 1009.0 165.2 1005.8 162.2 1005.7 161.6 996.5 153.3 994.6 152.7 993.3 151.5 990.0 150.3 988.7 149.2 986.7 148.6 985.4 147.4 984.8 147.4 982.8 146.2 980.9 146.2 980.2 145.6 978.9 145.6 978.3 145.0 977.0 145.0 976.3 144.4 974.3 144.4 973.7 143.9 972.4 143.8 971.7 143.3 969.1 143.2 968.5 142.7 965.2 142.6 964.6 142.1 961.3 142.1 960.6 141.5ZM866.0 146.9 856.9 147.2 847.1 148.9 838.0 151.9 828.8 156.5 821.7 161.8 814.2 169.3 805.6 180.6 801.9 187.1 799.8 193.6 798.4 204.2 798.6 216.0 799.3 222.0 800.5 227.9 803.2 235.0 807.6 241.5 813.8 247.0 820.4 250.6 824.9 252.4 831.4 254.1 843.8 255.4 851.0 255.4 858.2 254.7 870.6 252.3 875.8 250.6 881.0 248.3 886.3 245.3 889.5 242.9 893.0 239.7 895.5 236.7 898.2 232.6 900.9 227.3 904.8 216.0 906.2 207.8 905.3 197.7 905.8 180.6 905.0 176.4 903.5 172.3 900.5 166.4 896.2 159.9 892.8 156.1 888.9 153.1 883.6 150.3 877.8 148.4 871.2 147.2 866.0 146.9ZM958.0 146.8 950.2 147.2 943.0 148.4 937.8 150.1 932.6 152.6 928.7 155.5 925.0 159.3 918.7 167.0 915.0 172.9 912.8 178.8 912.5 182.9 912.9 183.5 912.9 185.9 913.4 186.5 913.7 196.3 914.8 209.5 916.0 216.0 918.5 223.7 920.5 228.5 923.3 233.8 925.7 237.3 928.3 240.3 931.9 243.4 936.5 246.5 941.1 248.9 946.9 251.3 958.7 254.2 973.0 255.5 986.1 254.6 992.0 253.5 997.8 251.7 1005.0 248.3 1011.5 243.1 1016.3 237.3 1019.6 230.2 1021.7 220.8 1022.5 207.8 1021.6 196.5 1019.6 188.8 1016.4 182.3 1008.6 171.7 1001.5 164.0 993.9 157.8 986.7 153.7 978.3 150.2 967.8 147.7 958.0 146.8ZM864.7 151.0 855.6 151.3 846.5 153.1 838.0 156.0 829.5 160.5 822.3 166.1 815.3 173.5 808.9 182.3 805.1 190.0 803.0 198.3 802.4 208.4 803.3 218.4 805.7 227.3 808.9 233.8 813.8 239.8 820.4 244.8 827.5 248.3 832.8 249.9 838.6 251.1 850.4 251.9 862.8 250.8 868.6 249.5 873.9 247.8 878.4 245.9 883.0 243.5 886.9 240.8 890.2 237.9 893.3 234.4 895.8 230.8 898.4 226.1 900.5 221.4 903.0 213.1 903.8 206.0 903.7 182.3 902.8 177.6 900.9 172.9 898.7 169.0 895.4 165.0 889.5 159.6 885.6 156.8 881.0 154.4 875.8 152.6 869.9 151.4 864.7 151.0ZM960.6 151.0 954.1 151.1 948.2 151.9 943.0 153.2 937.8 155.3 933.9 157.6 925.4 163.9 921.5 167.8 918.5 171.7 916.5 175.2 915.2 178.8 914.4 185.3 914.7 192.4 916.4 205.4 918.7 216.6 922.7 226.7 925.0 230.8 927.9 235.0 931.3 238.5 934.5 241.3 942.4 245.9 948.2 248.3 954.1 250.0 965.9 251.7 972.4 251.9 978.3 251.6 984.8 250.6 990.0 249.4 997.8 246.3 1004.4 242.1 1009.8 236.7 1013.9 230.2 1015.8 225.5 1016.9 221.4 1018.2 211.9 1018.2 201.9 1016.4 192.4 1013.2 184.7 1007.8 176.4 1001.1 168.6 993.9 162.4 986.7 157.9 978.3 154.2 969.1 151.9 960.6 151.0ZM865.4 154.5 856.2 154.6 848.4 155.9 839.3 158.9 831.4 163.0 824.3 168.5 817.8 175.2 812.7 182.3 808.8 190.0 807.5 194.2 806.4 199.5 805.9 207.8 806.9 217.2 809.5 225.5 812.6 231.4 817.7 237.4 823.6 241.9 830.8 245.4 836.7 247.2 841.9 248.2 852.3 248.9 863.4 247.8 868.6 246.6 873.9 244.9 882.3 240.6 886.3 237.8 889.3 235.0 891.9 232.0 895.1 227.3 899.0 219.0 900.5 214.3 901.5 208.4 902.4 189.4 901.7 181.2 900.8 177.6 899.2 174.1 897.0 170.5 894.1 167.2 890.8 164.4 886.3 161.4 880.4 158.3 875.8 156.5 871.2 155.3 865.4 154.5ZM963.3 154.5 958.0 154.4 952.8 154.8 946.9 155.9 943.0 157.2 936.5 160.1 930.6 163.2 926.1 166.5 922.1 170.2 919.7 173.5 918.1 176.4 916.8 180.0 916.1 183.5 916.2 192.4 918.0 205.4 921.2 217.2 925.0 226.1 927.6 230.2 931.0 234.4 934.5 237.8 937.8 240.2 941.7 242.5 946.9 244.9 952.2 246.6 957.4 247.8 963.3 248.6 969.8 248.9 977.0 248.5 981.5 247.8 990.0 245.4 997.8 241.7 1003.7 237.3 1008.6 231.4 1012.0 224.3 1014.1 216.0 1014.9 206.0 1013.9 196.5 1011.3 188.3 1007.4 181.2 1001.5 173.5 994.8 167.0 987.4 161.8 980.2 158.4 972.4 155.9 963.3 154.5ZM866.7 157.5 858.9 157.2 850.4 158.2 842.4 160.5 834.7 164.1 827.2 169.3 821.1 175.2 815.8 182.3 812.0 189.4 809.8 196.5 808.8 204.8 809.3 213.1 811.2 221.0 814.5 228.2 818.4 233.8 823.6 238.5 830.1 242.2 839.1 245.0 845.1 246.0 850.4 246.4 860.2 246.0 865.6 245.0 870.6 243.6 875.2 241.9 879.5 239.7 886.3 234.8 889.5 231.5 892.1 228.1 896.7 219.8 898.6 214.3 899.5 210.1 900.9 193.6 900.6 183.5 899.8 180.0 898.4 176.4 896.3 172.9 893.9 169.9 890.8 167.2 886.9 164.5 882.3 162.2 876.6 159.9 871.2 158.3 866.7 157.5ZM965.9 157.5 956.7 157.2 947.8 158.7 936.5 162.7 931.9 165.0 927.8 167.6 922.7 172.3 920.6 175.2 919.1 178.2 918.1 181.2 917.5 184.7 917.5 193.0 919.8 206.6 923.5 218.2 925.4 222.6 928.0 227.2 930.6 230.7 933.9 234.2 937.7 237.3 941.3 239.7 946.0 242.1 950.8 243.8 956.7 245.3 962.6 246.2 968.5 246.4 973.9 246.2 984.0 244.4 992.0 241.7 998.5 238.0 1003.8 233.2 1007.8 227.3 1010.4 220.2 1011.8 211.3 1011.8 201.9 1010.2 193.6 1007.4 186.5 1002.4 178.6 996.5 171.9 990.0 166.6 982.6 162.2 974.8 159.3 965.9 157.5ZM863.4 160.4 855.6 160.6 848.4 161.8 841.2 164.3 834.7 167.6 828.2 172.5 822.6 178.2 818.0 184.7 814.8 191.2 812.9 198.3 812.2 206.0 812.9 213.1 815.3 222.0 818.0 227.9 821.9 233.2 826.9 237.4 832.8 240.3 837.3 241.8 841.9 242.7 853.0 243.6 862.1 242.9 871.2 240.6 875.2 238.9 879.7 236.4 885.6 231.9 891.0 225.5 895.1 217.8 896.5 213.7 897.9 207.8 899.1 200.1 899.7 193.0 899.6 187.7 899.1 183.5 898.1 180.0 896.6 176.4 894.7 173.5 892.1 170.6 888.9 168.0 885.6 166.2 881.0 164.3 875.2 162.6 869.3 161.2 863.4 160.4ZM963.9 160.5 954.1 160.8 946.9 162.0 940.4 163.6 935.8 165.2 931.9 167.0 928.7 169.1 925.4 171.9 923.0 174.7 921.2 177.6 919.7 181.2 918.9 184.7 918.7 193.0 920.4 203.6 924.2 214.9 929.0 224.3 934.1 230.8 937.2 233.6 941.1 236.4 945.6 238.9 949.5 240.6 954.1 242.0 960.0 243.1 965.2 243.5 971.1 243.5 977.0 242.9 982.8 241.8 990.7 239.3 996.5 236.2 1001.4 232.0 1005.2 226.7 1007.5 220.8 1008.7 213.7 1008.7 204.2 1007.4 195.9 1004.7 188.3 1001.3 182.3 996.7 176.4 991.3 171.3 985.4 167.2 978.3 163.7 970.4 161.4 963.9 160.5ZM865.4 163.4 858.2 163.1 851.0 164.0 843.8 166.1 837.3 169.2 831.4 173.2 826.2 178.1 821.9 183.5 818.4 190.0 816.1 197.1 815.2 204.2 815.8 211.7 817.5 219.6 820.0 226.1 823.2 230.8 827.5 234.9 832.8 237.8 840.6 240.2 849.7 241.2 860.2 240.7 869.3 238.7 877.1 235.3 883.4 230.8 888.9 224.9 892.8 218.1 894.7 213.0 896.2 207.8 897.4 201.3 898.2 194.2 898.4 189.4 898.0 185.3 897.2 181.8 895.7 178.2 893.9 175.2 891.5 172.5 888.9 170.4 885.6 168.4 881.7 166.8 877.1 165.4 865.4 163.4ZM965.9 163.4 956.1 163.3 944.3 164.8 935.2 167.5 931.3 169.4 928.7 171.2 926.1 173.5 923.7 176.4 922.0 179.4 920.8 182.5 920.1 185.9 919.9 190.0 920.7 198.9 922.1 204.2 924.1 210.1 928.7 219.8 933.9 227.3 937.2 230.6 940.4 233.2 944.3 235.7 948.9 237.8 957.7 240.3 968.5 241.1 979.6 240.2 986.7 238.4 993.0 235.6 997.9 232.0 1002.0 227.3 1004.6 222.0 1005.9 216.0 1006.3 208.9 1005.4 200.7 1003.7 193.5 1001.0 187.1 997.2 181.2 992.0 175.4 986.1 170.8 979.6 167.2 973.0 164.8 965.9 163.4ZM867.3 166.4 858.9 166.2 853.0 166.6 846.7 168.2 840.9 170.5 835.1 174.1 830.1 178.2 825.6 183.5 822.3 188.8 819.8 195.3 818.7 201.3 818.8 210.1 819.9 218.4 821.6 223.7 824.3 228.5 828.2 232.6 832.8 235.5 839.9 237.9 848.4 238.8 858.9 238.2 868.6 236.2 875.7 233.2 881.7 229.1 886.3 224.3 890.4 217.8 894.3 207.8 896.6 197.1 896.9 192.4 896.8 187.7 896.0 183.5 894.8 180.0 893.1 177.0 890.8 174.4 888.2 172.2 885.0 170.2 881.0 168.6 877.1 167.5 867.3 166.4ZM965.2 166.4 954.1 165.9 943.7 166.9 935.2 169.5 931.9 171.1 928.7 173.4 926.1 175.8 924.4 178.2 922.8 181.3 921.8 184.7 921.2 188.3 921.2 192.4 922.5 200.7 926.1 210.7 931.3 220.0 937.2 227.2 940.4 230.0 944.2 232.6 948.2 234.7 952.8 236.4 962.6 238.3 973.7 238.6 983.5 237.1 989.4 235.1 994.5 232.0 998.5 228.3 1001.4 223.7 1003.1 219.0 1003.9 213.1 1003.6 206.6 1002.2 199.5 999.9 192.4 997.2 186.7 993.9 181.8 989.4 177.0 984.0 172.9 978.3 169.8 971.9 167.6 965.2 166.4ZM875.8 169.3 869.3 168.8 860.8 169.2 851.7 170.3 845.8 171.8 840.6 174.2 836.0 177.2 831.6 181.2 828.2 185.3 825.2 190.6 823.3 196.5 822.1 205.4 821.9 213.7 822.8 219.6 824.5 224.3 827.2 228.5 830.8 231.8 836.7 234.9 843.8 236.4 851.7 236.6 860.8 235.3 869.3 232.8 875.8 229.7 881.3 225.5 885.9 220.2 890.6 211.9 894.0 202.4 895.4 193.6 895.0 185.9 894.1 182.7 892.8 179.8 890.8 176.9 888.6 174.7 886.2 172.9 883.0 171.2 875.8 169.3ZM959.3 168.7 948.9 168.3 939.8 169.7 935.8 171.1 932.6 172.7 929.3 175.1 926.8 177.6 924.9 180.6 923.6 183.5 922.8 187.0 922.5 190.6 923.5 198.9 926.6 207.8 930.8 215.5 937.2 223.5 943.0 228.5 950.2 232.4 954.8 234.0 960.0 235.3 970.4 236.4 980.2 235.7 988.0 233.3 992.6 230.7 996.4 227.3 999.2 223.1 1000.9 218.4 1001.6 213.1 1001.2 207.2 1000.0 201.9 997.4 194.8 994.8 189.4 991.2 184.1 987.4 179.9 982.8 176.2 977.6 173.3 973.0 171.5 966.5 169.8 959.3 168.7ZM873.9 171.1 868.0 171.0 861.5 171.7 853.6 173.3 846.9 175.2 841.9 177.4 838.0 179.9 834.6 182.9 831.7 186.5 828.8 191.8 826.4 198.9 824.8 206.6 824.4 213.1 825.0 218.4 826.6 223.1 829.2 227.3 832.8 230.5 838.0 233.1 844.5 234.4 852.3 234.4 860.8 232.9 868.6 230.3 875.2 226.8 880.5 222.5 885.5 216.6 889.5 209.5 892.8 200.1 893.9 192.4 893.8 188.8 893.2 185.3 890.8 179.8 888.9 177.4 886.4 175.2 881.0 172.5 873.9 171.1ZM954.8 170.5 945.6 170.5 941.7 171.1 937.6 172.3 934.5 173.6 931.3 175.7 928.7 178.1 926.8 180.6 925.4 183.5 924.5 186.5 924.1 190.0 924.2 194.2 924.9 198.3 926.1 202.3 929.7 210.1 934.5 217.3 940.4 223.4 946.9 228.0 954.8 231.5 963.9 233.7 973.7 234.2 982.2 233.1 986.1 231.9 989.4 230.3 993.3 227.4 995.9 224.3 998.0 220.2 999.1 215.5 999.2 210.1 998.1 204.2 996.1 198.3 993.5 193.0 990.4 188.3 986.7 183.9 982.8 180.3 978.3 177.3 973.0 174.7 967.2 172.7 960.6 171.2 954.8 170.5ZM877.1 173.5 871.9 172.9 866.7 173.2 860.2 174.4 854.3 176.2 848.4 178.8 843.4 181.8 839.3 185.0 835.8 188.8 832.6 193.6 829.7 199.5 827.8 205.4 826.9 211.3 827.0 216.6 828.2 221.0 830.3 224.9 833.4 228.2 838.0 230.8 843.8 232.4 850.4 232.6 858.2 231.3 865.4 229.0 872.6 225.2 878.4 220.8 883.0 215.9 887.2 209.5 890.3 202.4 892.1 194.8 892.0 188.3 890.4 182.9 887.6 178.7 883.0 175.4 877.1 173.5ZM951.5 172.3 943.0 172.8 936.5 174.7 933.4 176.4 931.1 178.2 929.0 180.6 927.4 183.3 926.2 186.5 925.7 189.4 925.7 193.0 926.1 196.5 928.4 203.6 932.6 211.3 937.8 217.8 943.7 222.9 950.9 227.2 958.7 230.2 967.2 231.9 975.6 232.1 982.8 230.8 986.1 229.5 989.0 227.9 992.5 224.9 994.9 221.4 996.4 217.2 997.0 213.1 996.7 208.4 995.6 203.6 993.4 198.3 990.7 193.5 987.1 188.8 983.5 185.1 978.9 181.4 974.3 178.6 969.1 176.1 963.3 174.2 957.4 172.9 951.5 172.3ZM875.8 175.2 871.2 174.9 866.0 175.4 860.8 176.6 855.6 178.5 850.4 181.0 845.6 184.1 841.4 187.7 837.6 191.8 834.4 196.5 831.7 201.9 830.0 207.2 829.2 211.9 829.4 216.0 830.4 220.2 832.3 223.7 835.2 226.7 839.9 229.3 845.1 230.5 851.7 230.4 858.2 229.1 865.4 226.4 871.9 222.7 877.4 218.4 882.2 213.1 886.3 207.0 889.0 200.7 890.3 194.2 890.1 188.3 888.5 183.5 885.6 179.7 881.0 176.7 875.8 175.2ZM955.4 174.7 947.6 174.2 940.4 175.3 937.2 176.5 934.5 178.0 930.6 181.8 929.1 184.1 928.0 187.1 927.4 193.0 927.9 196.5 928.9 200.1 932.2 207.2 937.0 213.7 943.0 219.4 949.5 223.8 957.4 227.4 965.9 229.6 973.7 230.1 980.9 229.1 986.7 226.7 989.8 224.3 992.2 221.4 993.8 217.8 994.6 214.3 994.6 210.1 993.8 206.0 992.4 201.9 990.0 197.2 987.1 193.0 984.0 189.4 980.2 185.9 975.6 182.5 971.1 179.8 965.9 177.5 960.6 175.8 955.4 174.7ZM873.2 177.0 868.6 177.1 864.1 177.9 859.3 179.4 854.3 181.6 849.7 184.3 845.8 187.3 841.9 190.9 838.6 194.8 835.9 198.9 833.6 203.6 832.2 208.4 831.6 212.5 831.8 216.0 832.8 219.6 834.7 222.8 837.3 225.3 841.2 227.3 846.5 228.4 852.3 228.2 858.9 226.7 865.4 224.1 871.2 220.5 876.6 216.0 881.4 210.7 885.1 204.8 887.4 198.9 888.4 193.6 888.0 188.3 886.3 184.0 883.0 180.4 878.4 178.0 873.2 177.0ZM952.8 176.4 945.6 176.4 939.8 177.7 934.8 180.6 932.9 182.3 931.3 184.7 929.7 189.4 929.7 195.3 931.4 201.3 935.0 207.8 939.8 213.6 945.6 218.6 952.2 222.7 959.3 225.7 967.2 227.6 974.3 227.9 980.9 226.8 985.9 224.3 988.5 222.0 990.6 219.0 991.7 216.0 992.2 212.5 992.0 208.9 991.0 204.8 989.2 200.7 986.7 196.5 983.5 192.4 980.2 189.0 976.3 185.8 972.0 182.9 967.5 180.6 962.6 178.6 957.4 177.1 952.8 176.4ZM873.9 179.4 869.9 179.2 865.4 179.8 860.8 181.1 856.9 182.8 852.4 185.3 848.4 188.1 844.5 191.6 841.2 195.3 838.3 199.5 836.2 203.6 834.8 207.8 834.2 211.3 834.3 214.9 835.3 218.4 836.7 220.8 839.0 223.1 842.5 225.1 847.1 226.1 852.3 226.0 858.2 224.7 864.1 222.3 869.6 219.0 874.7 214.9 879.1 210.2 882.7 204.8 885.0 199.6 886.0 194.8 885.9 190.0 884.5 185.9 882.1 182.9 878.4 180.6 873.9 179.4ZM954.1 178.7 947.6 178.4 941.7 179.5 937.2 181.9 933.9 185.3 932.2 189.4 932.0 194.8 933.3 200.1 936.5 206.2 941.1 211.8 946.3 216.3 952.8 220.5 959.3 223.4 966.5 225.2 973.0 225.6 978.9 224.7 983.6 222.5 986.1 220.4 988.0 217.8 989.1 214.9 989.5 211.9 989.2 208.4 988.3 204.8 986.8 201.3 984.8 197.8 978.9 191.0 971.5 185.3 963.2 181.2 958.7 179.7 954.1 178.7ZM870.6 181.7 867.3 181.9 863.4 182.7 859.5 184.0 855.6 185.9 848.4 191.0 842.7 197.1 840.3 200.7 838.6 204.2 837.5 207.8 837.1 210.7 837.2 213.7 838.0 216.6 839.3 219.0 841.2 220.9 844.5 222.7 849.1 223.6 853.6 223.4 858.9 222.1 864.1 219.9 869.3 216.6 873.9 212.7 877.7 208.4 880.7 203.6 882.6 198.9 883.4 194.2 882.9 190.0 881.2 186.5 878.7 184.1 875.2 182.4 870.6 181.7ZM953.5 181.1 947.6 181.1 943.0 182.1 939.1 184.3 936.3 187.7 934.9 191.8 935.1 196.5 936.6 201.3 939.8 206.6 943.9 211.3 948.9 215.4 954.8 218.9 960.6 221.3 966.5 222.7 972.4 223.0 977.6 222.1 981.5 220.1 983.5 218.4 985.1 216.0 986.0 213.7 986.4 210.7 986.2 207.8 985.2 204.2 981.7 197.7 976.3 191.8 969.1 186.5 961.3 182.9 953.5 181.1ZM870.6 184.7 867.3 184.6 864.1 185.1 857.5 187.5 851.0 191.7 845.6 197.1 841.9 203.0 840.2 208.9 840.2 211.9 840.8 214.3 842.0 216.6 843.7 218.4 846.5 220.0 850.4 220.8 854.3 220.6 858.9 219.6 863.4 217.6 867.3 215.2 871.2 212.1 874.7 208.4 877.2 204.8 879.1 200.7 880.1 196.5 880.1 193.0 879.1 189.9 877.1 187.4 874.5 185.7 870.6 184.7ZM955.4 184.0 950.2 183.8 945.7 184.7 942.3 186.5 939.8 189.3 938.5 192.4 938.4 196.5 939.6 200.7 942.2 205.4 945.7 209.5 949.8 213.1 954.8 216.2 960.0 218.5 965.2 219.9 970.4 220.2 975.0 219.5 978.5 217.8 980.2 216.3 981.7 214.3 982.6 211.9 982.9 209.5 982.0 204.2 979.2 198.9 974.6 193.6 969.1 189.3 962.6 186.0 955.4 184.0ZM868.6 187.6 863.4 188.0 857.5 190.2 852.3 193.7 847.8 198.3 844.7 203.6 843.5 208.4 844.0 212.5 845.0 214.3 846.5 215.8 849.1 217.2 851.7 217.8 854.9 217.7 858.9 216.8 862.8 215.2 866.3 213.1 869.8 210.1 872.5 207.2 874.5 204.2 876.1 200.7 876.9 197.1 876.7 194.2 875.8 191.7 873.9 189.5 871.5 188.3 868.6 187.6ZM956.1 187.0 952.2 186.8 948.2 187.5 945.6 188.8 943.3 191.2 942.1 194.2 942.1 197.7 943.2 201.3 945.2 204.8 948.2 208.4 951.6 211.3 955.4 213.7 960.0 215.8 964.6 216.9 968.5 217.2 972.4 216.7 975.6 215.1 978.3 212.2 979.2 208.4 978.6 204.2 976.2 199.5 972.4 195.0 967.4 191.2 961.9 188.5 956.1 187.0ZM868.0 191.1 864.1 191.0 859.5 192.3 854.9 195.0 851.3 198.3 848.5 202.4 847.2 206.6 847.5 210.1 849.1 212.6 851.0 213.9 853.0 214.4 855.6 214.5 858.2 214.0 864.1 211.4 869.0 207.2 870.8 204.8 872.4 201.9 873.1 199.5 873.3 197.1 873.0 195.3 871.9 193.4 870.0 191.8 868.0 191.1ZM958.7 190.5 955.4 190.1 952.2 190.3 949.5 191.2 947.6 192.8 946.4 194.8 946.0 197.1 946.4 200.1 947.8 203.0 949.9 206.0 952.4 208.4 955.7 210.7 959.3 212.5 963.3 213.6 966.5 213.9 969.8 213.5 972.1 212.5 974.3 210.2 975.1 207.8 974.8 204.2 973.3 200.7 970.5 197.1 967.2 194.4 963.3 192.1 958.7 190.5ZM866.0 195.1 863.4 194.8 860.2 195.6 857.2 197.1 854.5 199.5 852.4 202.4 851.5 205.4 851.7 207.8 853.0 209.5 855.6 210.6 859.4 210.1 863.0 208.4 866.0 205.8 868.2 202.4 868.9 199.5 868.7 197.7 868.1 196.5 866.0 195.1ZM958.7 194.1 954.6 194.2 952.8 194.9 951.7 195.9 951.0 197.1 950.7 198.9 951.0 200.7 952.1 203.0 955.4 206.6 960.0 209.2 964.6 210.1 966.5 209.8 968.5 209.0 969.8 207.7 970.5 205.4 970.1 203.0 968.9 200.7 966.8 198.3 964.6 196.5 961.9 195.1 958.7 194.1Z" fill="none" stroke="#000" stroke-width="1.0" stroke-opacity="0.62"/>
</g>
<rect x="682.02" y="63.50" width="456.75" height="236.50" fill="none" stroke="#000" stroke-width="1.6"/>
<path d="M714.65 300.00L714.65 294.80 M714.65 63.50L714.65 68.70 M779.90 300.00L779.90 294.80 M779.90 63.50L779.90 68.70 M845.15 300.00L845.15 294.80 M845.15 63.50L845.15 68.70 M910.40 300.00L910.40 294.80 M910.40 63.50L910.40 68.70 M975.65 300.00L975.65 294.80 M975.65 63.50L975.65 68.70 M1040.90 300.00L1040.90 294.80 M1040.90 63.50L1040.90 68.70 M1106.15 300.00L1106.15 294.80 M1106.15 63.50L1106.15 68.70 M682.02 300.00L687.23 300.00 M1138.77 300.00L1133.57 300.00 M682.02 270.44L687.23 270.44 M1138.77 270.44L1133.57 270.44 M682.02 240.88L687.23 240.88 M1138.77 240.88L1133.57 240.88 M682.02 211.31L687.23 211.31 M1138.77 211.31L1133.57 211.31 M682.02 181.75L687.23 181.75 M1138.77 181.75L1133.57 181.75 M682.02 152.19L687.23 152.19 M1138.77 152.19L1133.57 152.19 M682.02 122.62L687.23 122.62 M1138.77 122.62L1133.57 122.62 M682.02 93.06L687.23 93.06 M1138.77 93.06L1133.57 93.06 M682.02 63.50L687.23 63.50 M1138.77 63.50L1133.57 63.50" stroke="#000" stroke-width="1.6" fill="none"/>
<path d="M688.55 300.00L688.55 297.40 M688.55 63.50L688.55 66.10 M701.60 300.00L701.60 297.40 M701.60 63.50L701.60 66.10 M727.70 300.00L727.70 297.40 M727.70 63.50L727.70 66.10 M740.75 300.00L740.75 297.40 M740.75 63.50L740.75 66.10 M753.80 300.00L753.80 297.40 M753.80 63.50L753.80 66.10 M766.85 300.00L766.85 297.40 M766.85 63.50L766.85 66.10 M792.95 300.00L792.95 297.40 M792.95 63.50L792.95 66.10 M806.00 300.00L806.00 297.40 M806.00 63.50L806.00 66.10 M819.05 300.00L819.05 297.40 M819.05 63.50L819.05 66.10 M832.10 300.00L832.10 297.40 M832.10 63.50L832.10 66.10 M858.20 300.00L858.20 297.40 M858.20 63.50L858.20 66.10 M871.25 300.00L871.25 297.40 M871.25 63.50L871.25 66.10 M884.30 300.00L884.30 297.40 M884.30 63.50L884.30 66.10 M897.35 300.00L897.35 297.40 M897.35 63.50L897.35 66.10 M923.45 300.00L923.45 297.40 M923.45 63.50L923.45 66.10 M936.50 300.00L936.50 297.40 M936.50 63.50L936.50 66.10 M949.55 300.00L949.55 297.40 M949.55 63.50L949.55 66.10 M962.60 300.00L962.60 297.40 M962.60 63.50L962.60 66.10 M988.70 300.00L988.70 297.40 M988.70 63.50L988.70 66.10 M1001.75 300.00L1001.75 297.40 M1001.75 63.50L1001.75 66.10 M1014.80 300.00L1014.80 297.40 M1014.80 63.50L1014.80 66.10 M1027.85 300.00L1027.85 297.40 M1027.85 63.50L1027.85 66.10 M1053.95 300.00L1053.95 297.40 M1053.95 63.50L1053.95 66.10 M1067.00 300.00L1067.00 297.40 M1067.00 63.50L1067.00 66.10 M1080.05 300.00L1080.05 297.40 M1080.05 63.50L1080.05 66.10 M1093.10 300.00L1093.10 297.40 M1093.10 63.50L1093.10 66.10 M1119.20 300.00L1119.20 297.40 M1119.20 63.50L1119.20 66.10 M1132.25 300.00L1132.25 297.40 M1132.25 63.50L1132.25 66.10 M682.02 294.09L684.62 294.09 M1138.77 294.09L1136.17 294.09 M682.02 288.18L684.62 288.18 M1138.77 288.18L1136.17 288.18 M682.02 282.26L684.62 282.26 M1138.77 282.26L1136.17 282.26 M682.02 276.35L684.62 276.35 M1138.77 276.35L1136.17 276.35 M682.02 264.52L684.62 264.52 M1138.77 264.52L1136.17 264.52 M682.02 258.61L684.62 258.61 M1138.77 258.61L1136.17 258.61 M682.02 252.70L684.62 252.70 M1138.77 252.70L1136.17 252.70 M682.02 246.79L684.62 246.79 M1138.77 246.79L1136.17 246.79 M682.02 234.96L684.62 234.96 M1138.77 234.96L1136.17 234.96 M682.02 229.05L684.62 229.05 M1138.77 229.05L1136.17 229.05 M682.02 223.14L684.62 223.14 M1138.77 223.14L1136.17 223.14 M682.02 217.22L684.62 217.22 M1138.77 217.22L1136.17 217.22 M682.02 205.40L684.62 205.40 M1138.77 205.40L1136.17 205.40 M682.02 199.49L684.62 199.49 M1138.77 199.49L1136.17 199.49 M682.02 193.57L684.62 193.57 M1138.77 193.57L1136.17 193.57 M682.02 187.66L684.62 187.66 M1138.77 187.66L1136.17 187.66 M682.02 175.84L684.62 175.84 M1138.77 175.84L1136.17 175.84 M682.02 169.93L684.62 169.93 M1138.77 169.93L1136.17 169.93 M682.02 164.01L684.62 164.01 M1138.77 164.01L1136.17 164.01 M682.02 158.10L684.62 158.10 M1138.77 158.10L1136.17 158.10 M682.02 146.28L684.62 146.28 M1138.77 146.28L1136.17 146.28 M682.02 140.36L684.62 140.36 M1138.77 140.36L1136.17 140.36 M682.02 134.45L684.62 134.45 M1138.77 134.45L1136.17 134.45 M682.02 128.54L684.62 128.54 M1138.77 128.54L1136.17 128.54 M682.02 116.71L684.62 116.71 M1138.77 116.71L1136.17 116.71 M682.02 110.80L684.62 110.80 M1138.77 110.80L1136.17 110.80 M682.02 104.89L684.62 104.89 M1138.77 104.89L1136.17 104.89 M682.02 98.97L684.62 98.97 M1138.77 98.97L1136.17 98.97 M682.02 87.15L684.62 87.15 M1138.77 87.15L1136.17 87.15 M682.02 81.24L684.62 81.24 M1138.77 81.24L1136.17 81.24 M682.02 75.32L684.62 75.32 M1138.77 75.32L1136.17 75.32 M682.02 69.41L684.62 69.41 M1138.77 69.41L1136.17 69.41" stroke="#000" stroke-width="1.0" fill="none"/>
<text x="715.45" y="327.2" font-size="25" text-anchor="middle">–0.3</text>
<text x="780.70" y="327.2" font-size="25" text-anchor="middle">–0.2</text>
<text x="845.95" y="327.2" font-size="25" text-anchor="middle">–0.1</text>
<text x="911.20" y="327.2" font-size="25" text-anchor="middle">0</text>
<text x="976.45" y="327.2" font-size="25" text-anchor="middle">0.1</text>
<text x="1041.70" y="327.2" font-size="25" text-anchor="middle">0.2</text>
<text x="1106.95" y="327.2" font-size="25" text-anchor="middle">0.3</text>
<text x="671.52" y="308.30" font-size="24" text-anchor="end">0</text>
<text x="671.52" y="278.74" font-size="24" text-anchor="end">0.05</text>
<text x="671.52" y="249.18" font-size="24" text-anchor="end">0.10</text>
<text x="671.52" y="219.61" font-size="24" text-anchor="end">0.15</text>
<text x="671.52" y="190.05" font-size="24" text-anchor="end">0.20</text>
<text x="671.52" y="160.49" font-size="24" text-anchor="end">0.25</text>
<text x="671.52" y="130.92" font-size="24" text-anchor="end">0.30</text>
<text x="671.52" y="101.36" font-size="24" text-anchor="end">0.35</text>
<text x="671.52" y="71.80" font-size="24" text-anchor="end">0.40</text>
<text x="865.40" y="365" font-size="29.6"><tspan font-style="italic">z</tspan> (mm)</text>
<rect x="711.10" y="9.8" width="12.70" height="12.1" fill="#4a79b6"/>
<rect x="723.50" y="9.8" width="24.60" height="12.1" fill="#5f8fc4"/>
<rect x="747.80" y="9.8" width="24.60" height="12.1" fill="#77a9d0"/>
<rect x="772.10" y="9.8" width="24.60" height="12.1" fill="#97bfda"/>
<rect x="796.40" y="9.8" width="24.60" height="12.1" fill="#b8d3e8"/>
<rect x="820.70" y="9.8" width="24.60" height="12.1" fill="#d7e4ef"/>
<rect x="845.00" y="9.8" width="24.60" height="12.1" fill="#e2ecf5"/>
<rect x="869.30" y="9.8" width="24.60" height="12.1" fill="#ebf1f6"/>
<rect x="893.60" y="9.8" width="24.60" height="12.1" fill="#f6f6f6"/>
<rect x="917.90" y="9.8" width="24.60" height="12.1" fill="#f8ede6"/>
<rect x="942.20" y="9.8" width="24.60" height="12.1" fill="#fae8dc"/>
<rect x="966.50" y="9.8" width="24.60" height="12.1" fill="#f9dcc8"/>
<rect x="990.80" y="9.8" width="24.60" height="12.1" fill="#f0c2a8"/>
<rect x="1015.10" y="9.8" width="24.60" height="12.1" fill="#eaa684"/>
<rect x="1039.40" y="9.8" width="24.60" height="12.1" fill="#e38a66"/>
<rect x="1063.70" y="9.8" width="24.60" height="12.1" fill="#d06b56"/>
<rect x="1088.00" y="9.8" width="24.60" height="12.1" fill="#b84744"/>
<rect x="1112.30" y="9.8" width="12.70" height="12.1" fill="#a32830"/>
<path d="M723.50 9.8V21.9 M747.80 9.8V21.9 M772.10 9.8V21.9 M796.40 9.8V21.9 M820.70 9.8V21.9 M845.00 9.8V21.9 M869.30 9.8V21.9 M893.60 9.8V21.9 M917.90 9.8V21.9 M942.20 9.8V21.9 M966.50 9.8V21.9 M990.80 9.8V21.9 M1015.10 9.8V21.9 M1039.40 9.8V21.9 M1063.70 9.8V21.9 M1088.00 9.8V21.9 M1112.30 9.8V21.9" stroke="#000" stroke-opacity="0.25" stroke-width="0.8"/>
<rect x="711.10" y="9.8" width="413.60" height="12.1" fill="none" stroke="#000" stroke-opacity="0.15" stroke-width="0.6"/>
<text x="723.90" y="45.9" font-size="18.5" text-anchor="middle">0.15</text>
<text x="772.50" y="45.9" font-size="18.5" text-anchor="middle">0.25</text>
<text x="821.10" y="45.9" font-size="18.5" text-anchor="middle">0.35</text>
<text x="869.70" y="45.9" font-size="18.5" text-anchor="middle">0.45</text>
<text x="918.30" y="45.9" font-size="18.5" text-anchor="middle">0.55</text>
<text x="966.90" y="45.9" font-size="18.5" text-anchor="middle">0.65</text>
<text x="1015.50" y="45.9" font-size="18.5" text-anchor="middle">0.75</text>
<text x="1064.10" y="45.9" font-size="18.5" text-anchor="middle">0.85</text>
<text x="1112.70" y="45.9" font-size="18.5" text-anchor="middle">0.95</text>
<text x="641.00" y="23" font-size="24">|</text>
<text x="647.00" y="23" font-size="24" font-style="italic">U</text>
<path d="M651.60 -0.5L655.40 3.6L659.20 -0.5" fill="none" stroke="#000" stroke-width="1.3"/>
<text x="667.30" y="23" font-size="24">|</text>
<text x="674.00" y="23" font-size="24">[</text>
<path d="M680.00 16.2H695.50" stroke="#000" stroke-width="1.2"/>
<text x="696.10" y="23" font-size="24">]</text>
<text x="585.52" y="76" font-size="29.5">(<tspan font-style="italic">b</tspan>)</text>
<text transform="translate(24,186.8) rotate(-90)" font-size="28.6" text-anchor="middle"><tspan font-style="italic">y</tspan> (mm)</text>
</svg></body></html>
